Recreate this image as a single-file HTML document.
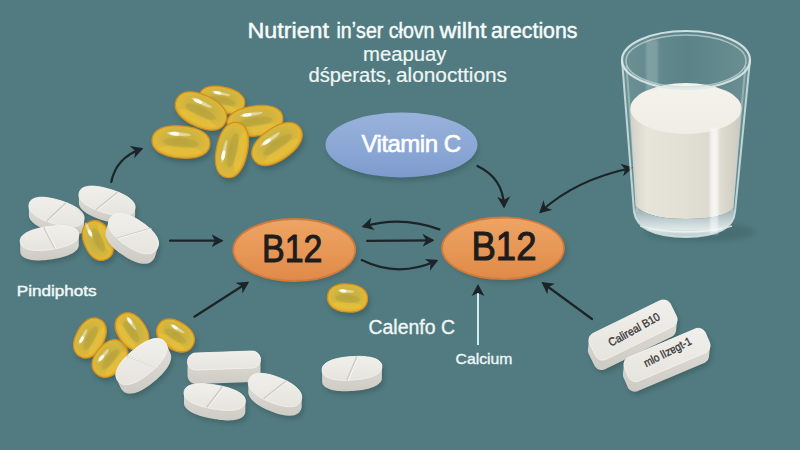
<!DOCTYPE html><html><head><meta charset="utf-8"><style>html,body{margin:0;padding:0;background:#517b80;overflow:hidden;}svg{display:block}text{font-family:"Liberation Sans",sans-serif}</style></head><body>
<svg width="800" height="450" viewBox="0 0 800 450">
<defs>
<filter id="blur2" x="-30%" y="-30%" width="160%" height="160%"><feGaussianBlur stdDeviation="2.5"/></filter>
<filter id="blur1"><feGaussianBlur stdDeviation="1"/></filter>
<radialGradient id="gelg" cx="50%" cy="45%" r="55%"><stop offset="0" stop-color="#c2ac42"/><stop offset="0.55" stop-color="#ceb440"/><stop offset="0.85" stop-color="#e0b838"/><stop offset="1" stop-color="#e6ac2a"/></radialGradient>
<filter id="blur05"><feGaussianBlur stdDeviation="0.6"/></filter>
<linearGradient id="topg" x1="0" y1="0" x2="0" y2="1"><stop offset="0" stop-color="#f0efeb"/><stop offset="1" stop-color="#e6e4de"/></linearGradient>
<linearGradient id="sideg" x1="0" y1="0" x2="0" y2="1"><stop offset="0" stop-color="#e2e0da"/><stop offset="1" stop-color="#cdcbc4"/></linearGradient>
<linearGradient id="orgg" x1="0" y1="0" x2="0" y2="1"><stop offset="0" stop-color="#eea565"/><stop offset="1" stop-color="#e08a48"/></linearGradient>
<linearGradient id="blueg" x1="0" y1="0" x2="0" y2="1"><stop offset="0" stop-color="#98b2da"/><stop offset="0.6" stop-color="#8aa6d4"/><stop offset="1" stop-color="#7c9acd"/></linearGradient>
<linearGradient id="glassg" x1="0" y1="0" x2="1" y2="0"><stop offset="0" stop-color="#7fa0a3" stop-opacity="0.6"/><stop offset="0.2" stop-color="#7c9ea1" stop-opacity="0.45"/><stop offset="0.5" stop-color="#6a9094" stop-opacity="0.4"/><stop offset="1" stop-color="#7fa0a3" stop-opacity="0.55"/></linearGradient>
<linearGradient id="milktop" x1="0" y1="0" x2="0" y2="1"><stop offset="0" stop-color="#f4f3ec"/><stop offset="1" stop-color="#efede4"/></linearGradient>
<linearGradient id="baseg" x1="0" y1="0" x2="0" y2="1"><stop offset="0" stop-color="#8ea6aa"/><stop offset="0.45" stop-color="#c0cfd1"/><stop offset="0.75" stop-color="#dfe7e7"/><stop offset="1" stop-color="#b5c7c9"/></linearGradient>
<linearGradient id="milkg" x1="0" y1="0" x2="1" y2="0"><stop offset="0" stop-color="#d4d0c5"/><stop offset="0.15" stop-color="#e7e4da"/><stop offset="0.5" stop-color="#e2dfd4"/><stop offset="0.7" stop-color="#dcd9ce"/><stop offset="0.76" stop-color="#eeede6"/><stop offset="0.82" stop-color="#dedbd0"/><stop offset="1" stop-color="#ccc8bc"/></linearGradient>
<marker id="ah" viewBox="0 0 12 14" refX="9.5" refY="7" markerWidth="12" markerHeight="14" markerUnits="userSpaceOnUse" orient="auto-start-reverse"><path d="M0,0.5 L12,7 L0,13.5 L3.5,7Z" fill="#1c2429"/></marker>
</defs>
<rect width="800" height="450" fill="#517b80"/>
<text x="247.5" y="38.0" font-size="21.5" fill="#f7fbfa" stroke="#f7fbfa" stroke-width="0.45" textLength="81.5" lengthAdjust="spacingAndGlyphs">Nutrient</text>
<text x="336.5" y="38.0" font-size="21.5" fill="#f7fbfa" stroke="#f7fbfa" stroke-width="0.45" textLength="98.0" lengthAdjust="spacingAndGlyphs">inʼser cłovn</text>
<text x="439.5" y="38.0" font-size="21.5" fill="#f7fbfa" stroke="#f7fbfa" stroke-width="0.45" textLength="47.0" lengthAdjust="spacingAndGlyphs">wilht</text>
<text x="491.0" y="38.0" font-size="21.5" fill="#f7fbfa" stroke="#f7fbfa" stroke-width="0.45" textLength="86.5" lengthAdjust="spacingAndGlyphs">arections</text>
<text x="363.0" y="60.5" font-size="19.5" fill="#eef6f5" stroke="#eef6f5" stroke-width="0.20" textLength="83.5" lengthAdjust="spacingAndGlyphs">meapuay</text>
<text x="308.5" y="82.0" font-size="19.5" fill="#eef6f5" stroke="#eef6f5" stroke-width="0.20" textLength="83.0" lengthAdjust="spacingAndGlyphs">dśperats,</text>
<text x="396.0" y="82.0" font-size="19.5" fill="#eef6f5" stroke="#eef6f5" stroke-width="0.20" textLength="111.0" lengthAdjust="spacingAndGlyphs">alonocttions</text>
<path d="M23.00,0.00 L22.90,1.65 L22.61,3.04 L22.12,4.33 L21.44,5.54 L20.57,6.66 L19.52,7.71 L18.30,8.67 L16.90,9.55 L15.35,10.34 L13.64,11.03 L11.79,11.63 L9.79,12.12 L7.66,12.50 L5.38,12.78 L2.92,12.94 L0.00,13.00 L-2.92,12.94 L-5.38,12.78 L-7.66,12.50 L-9.79,12.12 L-11.79,11.63 L-13.64,11.03 L-15.35,10.34 L-16.90,9.55 L-18.30,8.67 L-19.52,7.71 L-20.57,6.66 L-21.44,5.54 L-22.12,4.33 L-22.61,3.04 L-22.90,1.65 L-23.00,0.00 L-22.90,-1.65 L-22.61,-3.04 L-22.12,-4.33 L-21.44,-5.54 L-20.57,-6.66 L-19.52,-7.71 L-18.30,-8.67 L-16.90,-9.55 L-15.35,-10.34 L-13.64,-11.03 L-11.79,-11.63 L-9.79,-12.12 L-7.66,-12.50 L-5.38,-12.78 L-2.92,-12.94 L-0.00,-13.00 L2.92,-12.94 L5.38,-12.78 L7.66,-12.50 L9.79,-12.12 L11.79,-11.63 L13.64,-11.03 L15.35,-10.34 L16.90,-9.55 L18.30,-8.67 L19.52,-7.71 L20.57,-6.66 L21.44,-5.54 L22.12,-4.33 L22.61,-3.04 L22.90,-1.65Z" transform="translate(224.0,104.0) rotate(12.0)" fill="#123" opacity="0.28" filter="url(#blur2)"/>
<g transform="translate(222.0,100.0) rotate(12.0)">
<path d="M23.00,0.00 L22.90,1.65 L22.61,3.04 L22.12,4.33 L21.44,5.54 L20.57,6.66 L19.52,7.71 L18.30,8.67 L16.90,9.55 L15.35,10.34 L13.64,11.03 L11.79,11.63 L9.79,12.12 L7.66,12.50 L5.38,12.78 L2.92,12.94 L0.00,13.00 L-2.92,12.94 L-5.38,12.78 L-7.66,12.50 L-9.79,12.12 L-11.79,11.63 L-13.64,11.03 L-15.35,10.34 L-16.90,9.55 L-18.30,8.67 L-19.52,7.71 L-20.57,6.66 L-21.44,5.54 L-22.12,4.33 L-22.61,3.04 L-22.90,1.65 L-23.00,0.00 L-22.90,-1.65 L-22.61,-3.04 L-22.12,-4.33 L-21.44,-5.54 L-20.57,-6.66 L-19.52,-7.71 L-18.30,-8.67 L-16.90,-9.55 L-15.35,-10.34 L-13.64,-11.03 L-11.79,-11.63 L-9.79,-12.12 L-7.66,-12.50 L-5.38,-12.78 L-2.92,-12.94 L-0.00,-13.00 L2.92,-12.94 L5.38,-12.78 L7.66,-12.50 L9.79,-12.12 L11.79,-11.63 L13.64,-11.03 L15.35,-10.34 L16.90,-9.55 L18.30,-8.67 L19.52,-7.71 L20.57,-6.66 L21.44,-5.54 L22.12,-4.33 L22.61,-3.04 L22.90,-1.65Z" fill="url(#gelg)" stroke="#cf9020" stroke-width="1.3"/>
<ellipse cx="0" cy="6.8" rx="16.6" ry="3.4" fill="#efc63a" opacity="0.55" filter="url(#blur05)"/>
<ellipse cx="0" cy="0.7" rx="14.3" ry="3.9" fill="#a89638" opacity="0.35" filter="url(#blur05)"/>
<ellipse cx="-2.3" cy="-6.2" rx="9.7" ry="1.4" fill="#fff" opacity="0.5" filter="url(#blur05)"/>
<ellipse cx="-5.8" cy="-6.2" rx="3.9" ry="1.6" fill="#fff" opacity="0.9"/>
</g>
<path d="M27.00,0.00 L26.88,2.03 L26.54,3.74 L25.96,5.33 L25.17,6.81 L24.15,8.20 L22.91,9.49 L21.48,10.68 L19.84,11.76 L18.02,12.73 L16.01,13.58 L13.84,14.31 L11.50,14.91 L8.99,15.39 L6.32,15.73 L3.43,15.93 L0.00,16.00 L-3.43,15.93 L-6.32,15.73 L-8.99,15.39 L-11.50,14.91 L-13.84,14.31 L-16.01,13.58 L-18.02,12.73 L-19.84,11.76 L-21.48,10.68 L-22.91,9.49 L-24.15,8.20 L-25.17,6.81 L-25.96,5.33 L-26.54,3.74 L-26.88,2.03 L-27.00,0.00 L-26.88,-2.03 L-26.54,-3.74 L-25.96,-5.33 L-25.17,-6.81 L-24.15,-8.20 L-22.91,-9.49 L-21.48,-10.68 L-19.84,-11.76 L-18.02,-12.73 L-16.01,-13.58 L-13.84,-14.31 L-11.50,-14.91 L-8.99,-15.39 L-6.32,-15.73 L-3.43,-15.93 L-0.00,-16.00 L3.43,-15.93 L6.32,-15.73 L8.99,-15.39 L11.50,-14.91 L13.84,-14.31 L16.01,-13.58 L18.02,-12.73 L19.84,-11.76 L21.48,-10.68 L22.91,-9.49 L24.15,-8.20 L25.17,-6.81 L25.96,-5.33 L26.54,-3.74 L26.88,-2.03Z" transform="translate(203.0,115.0) rotate(25.0)" fill="#123" opacity="0.28" filter="url(#blur2)"/>
<g transform="translate(201.0,111.0) rotate(25.0)">
<path d="M27.00,0.00 L26.88,2.03 L26.54,3.74 L25.96,5.33 L25.17,6.81 L24.15,8.20 L22.91,9.49 L21.48,10.68 L19.84,11.76 L18.02,12.73 L16.01,13.58 L13.84,14.31 L11.50,14.91 L8.99,15.39 L6.32,15.73 L3.43,15.93 L0.00,16.00 L-3.43,15.93 L-6.32,15.73 L-8.99,15.39 L-11.50,14.91 L-13.84,14.31 L-16.01,13.58 L-18.02,12.73 L-19.84,11.76 L-21.48,10.68 L-22.91,9.49 L-24.15,8.20 L-25.17,6.81 L-25.96,5.33 L-26.54,3.74 L-26.88,2.03 L-27.00,0.00 L-26.88,-2.03 L-26.54,-3.74 L-25.96,-5.33 L-25.17,-6.81 L-24.15,-8.20 L-22.91,-9.49 L-21.48,-10.68 L-19.84,-11.76 L-18.02,-12.73 L-16.01,-13.58 L-13.84,-14.31 L-11.50,-14.91 L-8.99,-15.39 L-6.32,-15.73 L-3.43,-15.93 L-0.00,-16.00 L3.43,-15.93 L6.32,-15.73 L8.99,-15.39 L11.50,-14.91 L13.84,-14.31 L16.01,-13.58 L18.02,-12.73 L19.84,-11.76 L21.48,-10.68 L22.91,-9.49 L24.15,-8.20 L25.17,-6.81 L25.96,-5.33 L26.54,-3.74 L26.88,-2.03Z" fill="url(#gelg)" stroke="#cf9020" stroke-width="1.3"/>
<ellipse cx="0" cy="8.3" rx="19.4" ry="4.2" fill="#efc63a" opacity="0.55" filter="url(#blur05)"/>
<ellipse cx="0" cy="0.8" rx="16.7" ry="4.8" fill="#a89638" opacity="0.35" filter="url(#blur05)"/>
<ellipse cx="-2.7" cy="-7.7" rx="11.3" ry="1.8" fill="#fff" opacity="0.5" filter="url(#blur05)"/>
<ellipse cx="-6.8" cy="-7.7" rx="4.6" ry="1.9" fill="#fff" opacity="0.9"/>
</g>
<path d="M28.00,0.00 L27.88,1.90 L27.52,3.51 L26.93,5.00 L26.10,6.39 L25.04,7.69 L23.76,8.90 L22.27,10.01 L20.58,11.02 L18.68,11.93 L16.61,12.73 L14.35,13.41 L11.92,13.98 L9.33,14.42 L6.55,14.74 L3.55,14.94 L0.00,15.00 L-3.55,14.94 L-6.55,14.74 L-9.33,14.42 L-11.92,13.98 L-14.35,13.41 L-16.61,12.73 L-18.68,11.93 L-20.58,11.02 L-22.27,10.01 L-23.76,8.90 L-25.04,7.69 L-26.10,6.39 L-26.93,5.00 L-27.52,3.51 L-27.88,1.90 L-28.00,0.00 L-27.88,-1.90 L-27.52,-3.51 L-26.93,-5.00 L-26.10,-6.39 L-25.04,-7.69 L-23.76,-8.90 L-22.27,-10.01 L-20.58,-11.02 L-18.68,-11.93 L-16.61,-12.73 L-14.35,-13.41 L-11.92,-13.98 L-9.33,-14.42 L-6.55,-14.74 L-3.55,-14.94 L-0.00,-15.00 L3.55,-14.94 L6.55,-14.74 L9.33,-14.42 L11.92,-13.98 L14.35,-13.41 L16.61,-12.73 L18.68,-11.93 L20.58,-11.02 L22.27,-10.01 L23.76,-8.90 L25.04,-7.69 L26.10,-6.39 L26.93,-5.00 L27.52,-3.51 L27.88,-1.90Z" transform="translate(257.0,125.0) rotate(-8.0)" fill="#123" opacity="0.28" filter="url(#blur2)"/>
<g transform="translate(255.0,121.0) rotate(-8.0)">
<path d="M28.00,0.00 L27.88,1.90 L27.52,3.51 L26.93,5.00 L26.10,6.39 L25.04,7.69 L23.76,8.90 L22.27,10.01 L20.58,11.02 L18.68,11.93 L16.61,12.73 L14.35,13.41 L11.92,13.98 L9.33,14.42 L6.55,14.74 L3.55,14.94 L0.00,15.00 L-3.55,14.94 L-6.55,14.74 L-9.33,14.42 L-11.92,13.98 L-14.35,13.41 L-16.61,12.73 L-18.68,11.93 L-20.58,11.02 L-22.27,10.01 L-23.76,8.90 L-25.04,7.69 L-26.10,6.39 L-26.93,5.00 L-27.52,3.51 L-27.88,1.90 L-28.00,0.00 L-27.88,-1.90 L-27.52,-3.51 L-26.93,-5.00 L-26.10,-6.39 L-25.04,-7.69 L-23.76,-8.90 L-22.27,-10.01 L-20.58,-11.02 L-18.68,-11.93 L-16.61,-12.73 L-14.35,-13.41 L-11.92,-13.98 L-9.33,-14.42 L-6.55,-14.74 L-3.55,-14.94 L-0.00,-15.00 L3.55,-14.94 L6.55,-14.74 L9.33,-14.42 L11.92,-13.98 L14.35,-13.41 L16.61,-12.73 L18.68,-11.93 L20.58,-11.02 L22.27,-10.01 L23.76,-8.90 L25.04,-7.69 L26.10,-6.39 L26.93,-5.00 L27.52,-3.51 L27.88,-1.90Z" fill="url(#gelg)" stroke="#cf9020" stroke-width="1.3"/>
<ellipse cx="0" cy="7.8" rx="20.2" ry="3.9" fill="#efc63a" opacity="0.55" filter="url(#blur05)"/>
<ellipse cx="0" cy="0.8" rx="17.4" ry="4.5" fill="#a89638" opacity="0.35" filter="url(#blur05)"/>
<ellipse cx="-2.8" cy="-7.2" rx="11.8" ry="1.6" fill="#fff" opacity="0.5" filter="url(#blur05)"/>
<ellipse cx="-7.0" cy="-7.2" rx="4.8" ry="1.8" fill="#fff" opacity="0.9"/>
</g>
<path d="M29.00,0.00 L28.88,2.03 L28.50,3.74 L27.89,5.33 L27.03,6.81 L25.94,8.20 L24.61,9.49 L23.07,10.68 L21.31,11.76 L19.35,12.73 L17.20,13.58 L14.86,14.31 L12.35,14.91 L9.66,15.39 L6.78,15.73 L3.68,15.93 L0.00,16.00 L-3.68,15.93 L-6.78,15.73 L-9.66,15.39 L-12.35,14.91 L-14.86,14.31 L-17.20,13.58 L-19.35,12.73 L-21.31,11.76 L-23.07,10.68 L-24.61,9.49 L-25.94,8.20 L-27.03,6.81 L-27.89,5.33 L-28.50,3.74 L-28.88,2.03 L-29.00,0.00 L-28.88,-2.03 L-28.50,-3.74 L-27.89,-5.33 L-27.03,-6.81 L-25.94,-8.20 L-24.61,-9.49 L-23.07,-10.68 L-21.31,-11.76 L-19.35,-12.73 L-17.20,-13.58 L-14.86,-14.31 L-12.35,-14.91 L-9.66,-15.39 L-6.78,-15.73 L-3.68,-15.93 L-0.00,-16.00 L3.68,-15.93 L6.78,-15.73 L9.66,-15.39 L12.35,-14.91 L14.86,-14.31 L17.20,-13.58 L19.35,-12.73 L21.31,-11.76 L23.07,-10.68 L24.61,-9.49 L25.94,-8.20 L27.03,-6.81 L27.89,-5.33 L28.50,-3.74 L28.88,-2.03Z" transform="translate(183.0,146.0) rotate(5.0)" fill="#123" opacity="0.28" filter="url(#blur2)"/>
<g transform="translate(181.0,142.0) rotate(5.0)">
<path d="M29.00,0.00 L28.88,2.03 L28.50,3.74 L27.89,5.33 L27.03,6.81 L25.94,8.20 L24.61,9.49 L23.07,10.68 L21.31,11.76 L19.35,12.73 L17.20,13.58 L14.86,14.31 L12.35,14.91 L9.66,15.39 L6.78,15.73 L3.68,15.93 L0.00,16.00 L-3.68,15.93 L-6.78,15.73 L-9.66,15.39 L-12.35,14.91 L-14.86,14.31 L-17.20,13.58 L-19.35,12.73 L-21.31,11.76 L-23.07,10.68 L-24.61,9.49 L-25.94,8.20 L-27.03,6.81 L-27.89,5.33 L-28.50,3.74 L-28.88,2.03 L-29.00,0.00 L-28.88,-2.03 L-28.50,-3.74 L-27.89,-5.33 L-27.03,-6.81 L-25.94,-8.20 L-24.61,-9.49 L-23.07,-10.68 L-21.31,-11.76 L-19.35,-12.73 L-17.20,-13.58 L-14.86,-14.31 L-12.35,-14.91 L-9.66,-15.39 L-6.78,-15.73 L-3.68,-15.93 L-0.00,-16.00 L3.68,-15.93 L6.78,-15.73 L9.66,-15.39 L12.35,-14.91 L14.86,-14.31 L17.20,-13.58 L19.35,-12.73 L21.31,-11.76 L23.07,-10.68 L24.61,-9.49 L25.94,-8.20 L27.03,-6.81 L27.89,-5.33 L28.50,-3.74 L28.88,-2.03Z" fill="url(#gelg)" stroke="#cf9020" stroke-width="1.3"/>
<ellipse cx="0" cy="8.3" rx="20.9" ry="4.2" fill="#efc63a" opacity="0.55" filter="url(#blur05)"/>
<ellipse cx="0" cy="0.8" rx="18.0" ry="4.8" fill="#a89638" opacity="0.35" filter="url(#blur05)"/>
<ellipse cx="-2.9" cy="-7.7" rx="12.2" ry="1.8" fill="#fff" opacity="0.5" filter="url(#blur05)"/>
<ellipse cx="-7.2" cy="-7.7" rx="4.9" ry="1.9" fill="#fff" opacity="0.9"/>
</g>
<path d="M28.00,0.00 L27.88,1.97 L27.52,3.63 L26.93,5.16 L26.10,6.60 L25.04,7.94 L23.76,9.19 L22.27,10.34 L20.58,11.39 L18.68,12.33 L16.61,13.15 L14.35,13.86 L11.92,14.45 L9.33,14.91 L6.55,15.23 L3.55,15.43 L0.00,15.50 L-3.55,15.43 L-6.55,15.23 L-9.33,14.91 L-11.92,14.45 L-14.35,13.86 L-16.61,13.15 L-18.68,12.33 L-20.58,11.39 L-22.27,10.34 L-23.76,9.19 L-25.04,7.94 L-26.10,6.60 L-26.93,5.16 L-27.52,3.63 L-27.88,1.97 L-28.00,0.00 L-27.88,-1.97 L-27.52,-3.63 L-26.93,-5.16 L-26.10,-6.60 L-25.04,-7.94 L-23.76,-9.19 L-22.27,-10.34 L-20.58,-11.39 L-18.68,-12.33 L-16.61,-13.15 L-14.35,-13.86 L-11.92,-14.45 L-9.33,-14.91 L-6.55,-15.23 L-3.55,-15.43 L-0.00,-15.50 L3.55,-15.43 L6.55,-15.23 L9.33,-14.91 L11.92,-14.45 L14.35,-13.86 L16.61,-13.15 L18.68,-12.33 L20.58,-11.39 L22.27,-10.34 L23.76,-9.19 L25.04,-7.94 L26.10,-6.60 L26.93,-5.16 L27.52,-3.63 L27.88,-1.97Z" transform="translate(234.0,154.0) rotate(-78.0)" fill="#123" opacity="0.28" filter="url(#blur2)"/>
<g transform="translate(232.0,150.0) rotate(-78.0)">
<path d="M28.00,0.00 L27.88,1.97 L27.52,3.63 L26.93,5.16 L26.10,6.60 L25.04,7.94 L23.76,9.19 L22.27,10.34 L20.58,11.39 L18.68,12.33 L16.61,13.15 L14.35,13.86 L11.92,14.45 L9.33,14.91 L6.55,15.23 L3.55,15.43 L0.00,15.50 L-3.55,15.43 L-6.55,15.23 L-9.33,14.91 L-11.92,14.45 L-14.35,13.86 L-16.61,13.15 L-18.68,12.33 L-20.58,11.39 L-22.27,10.34 L-23.76,9.19 L-25.04,7.94 L-26.10,6.60 L-26.93,5.16 L-27.52,3.63 L-27.88,1.97 L-28.00,0.00 L-27.88,-1.97 L-27.52,-3.63 L-26.93,-5.16 L-26.10,-6.60 L-25.04,-7.94 L-23.76,-9.19 L-22.27,-10.34 L-20.58,-11.39 L-18.68,-12.33 L-16.61,-13.15 L-14.35,-13.86 L-11.92,-14.45 L-9.33,-14.91 L-6.55,-15.23 L-3.55,-15.43 L-0.00,-15.50 L3.55,-15.43 L6.55,-15.23 L9.33,-14.91 L11.92,-14.45 L14.35,-13.86 L16.61,-13.15 L18.68,-12.33 L20.58,-11.39 L22.27,-10.34 L23.76,-9.19 L25.04,-7.94 L26.10,-6.60 L26.93,-5.16 L27.52,-3.63 L27.88,-1.97Z" fill="url(#gelg)" stroke="#cf9020" stroke-width="1.3"/>
<ellipse cx="0" cy="8.1" rx="20.2" ry="4.0" fill="#efc63a" opacity="0.55" filter="url(#blur05)"/>
<ellipse cx="0" cy="0.8" rx="17.4" ry="4.6" fill="#a89638" opacity="0.35" filter="url(#blur05)"/>
<ellipse cx="-2.8" cy="-7.4" rx="11.8" ry="1.7" fill="#fff" opacity="0.5" filter="url(#blur05)"/>
<ellipse cx="-7.0" cy="-7.4" rx="4.8" ry="1.9" fill="#fff" opacity="0.9"/>
</g>
<path d="M28.00,0.00 L27.88,2.03 L27.52,3.74 L26.93,5.33 L26.10,6.81 L25.04,8.20 L23.76,9.49 L22.27,10.68 L20.58,11.76 L18.68,12.73 L16.61,13.58 L14.35,14.31 L11.92,14.91 L9.33,15.39 L6.55,15.73 L3.55,15.93 L0.00,16.00 L-3.55,15.93 L-6.55,15.73 L-9.33,15.39 L-11.92,14.91 L-14.35,14.31 L-16.61,13.58 L-18.68,12.73 L-20.58,11.76 L-22.27,10.68 L-23.76,9.49 L-25.04,8.20 L-26.10,6.81 L-26.93,5.33 L-27.52,3.74 L-27.88,2.03 L-28.00,0.00 L-27.88,-2.03 L-27.52,-3.74 L-26.93,-5.33 L-26.10,-6.81 L-25.04,-8.20 L-23.76,-9.49 L-22.27,-10.68 L-20.58,-11.76 L-18.68,-12.73 L-16.61,-13.58 L-14.35,-14.31 L-11.92,-14.91 L-9.33,-15.39 L-6.55,-15.73 L-3.55,-15.93 L-0.00,-16.00 L3.55,-15.93 L6.55,-15.73 L9.33,-15.39 L11.92,-14.91 L14.35,-14.31 L16.61,-13.58 L18.68,-12.73 L20.58,-11.76 L22.27,-10.68 L23.76,-9.49 L25.04,-8.20 L26.10,-6.81 L26.93,-5.33 L27.52,-3.74 L27.88,-2.03Z" transform="translate(279.0,148.0) rotate(-35.0)" fill="#123" opacity="0.28" filter="url(#blur2)"/>
<g transform="translate(277.0,144.0) rotate(-35.0)">
<path d="M28.00,0.00 L27.88,2.03 L27.52,3.74 L26.93,5.33 L26.10,6.81 L25.04,8.20 L23.76,9.49 L22.27,10.68 L20.58,11.76 L18.68,12.73 L16.61,13.58 L14.35,14.31 L11.92,14.91 L9.33,15.39 L6.55,15.73 L3.55,15.93 L0.00,16.00 L-3.55,15.93 L-6.55,15.73 L-9.33,15.39 L-11.92,14.91 L-14.35,14.31 L-16.61,13.58 L-18.68,12.73 L-20.58,11.76 L-22.27,10.68 L-23.76,9.49 L-25.04,8.20 L-26.10,6.81 L-26.93,5.33 L-27.52,3.74 L-27.88,2.03 L-28.00,0.00 L-27.88,-2.03 L-27.52,-3.74 L-26.93,-5.33 L-26.10,-6.81 L-25.04,-8.20 L-23.76,-9.49 L-22.27,-10.68 L-20.58,-11.76 L-18.68,-12.73 L-16.61,-13.58 L-14.35,-14.31 L-11.92,-14.91 L-9.33,-15.39 L-6.55,-15.73 L-3.55,-15.93 L-0.00,-16.00 L3.55,-15.93 L6.55,-15.73 L9.33,-15.39 L11.92,-14.91 L14.35,-14.31 L16.61,-13.58 L18.68,-12.73 L20.58,-11.76 L22.27,-10.68 L23.76,-9.49 L25.04,-8.20 L26.10,-6.81 L26.93,-5.33 L27.52,-3.74 L27.88,-2.03Z" fill="url(#gelg)" stroke="#cf9020" stroke-width="1.3"/>
<ellipse cx="0" cy="8.3" rx="20.2" ry="4.2" fill="#efc63a" opacity="0.55" filter="url(#blur05)"/>
<ellipse cx="0" cy="0.8" rx="17.4" ry="4.8" fill="#a89638" opacity="0.35" filter="url(#blur05)"/>
<ellipse cx="-2.8" cy="-7.7" rx="11.8" ry="1.8" fill="#fff" opacity="0.5" filter="url(#blur05)"/>
<ellipse cx="-7.0" cy="-7.7" rx="4.8" ry="1.9" fill="#fff" opacity="0.9"/>
</g>
<path d="M28.9,205.7 L29.0,204.8 L29.2,203.7 L29.6,202.6 L30.0,201.8 L30.5,201.0 L31.1,200.4 L31.8,199.8 L32.6,199.2 L33.4,198.8 L34.4,198.4 L35.4,198.0 L36.5,197.7 L37.7,197.5 L38.9,197.3 L40.3,197.2 L41.7,197.2 L43.1,197.2 L44.7,197.3 L46.3,197.5 L48.0,197.7 L49.7,198.0 L51.5,198.3 L53.4,198.7 L55.3,199.2 L57.5,199.8 L60.0,200.5 L62.5,201.3 L64.6,202.0 L66.5,202.7 L68.3,203.4 L70.0,204.2 L71.6,204.9 L73.1,205.7 L74.5,206.4 L75.8,207.2 L77.1,208.0 L78.2,208.8 L79.3,209.7 L80.2,210.5 L81.1,211.4 L81.8,212.2 L82.5,213.1 L83.0,213.9 L83.5,214.8 L83.8,215.7 L84.0,216.5 L84.1,217.4 L84.1,218.3 L84.1,227.3 L84.0,228.2 L83.8,229.3 L83.4,230.4 L83.0,231.2 L82.5,232.0 L81.9,232.6 L81.2,233.2 L80.4,233.8 L79.6,234.2 L78.6,234.6 L77.6,235.0 L76.5,235.3 L75.3,235.5 L74.1,235.7 L72.7,235.8 L71.3,235.8 L69.9,235.8 L68.3,235.7 L66.7,235.5 L65.0,235.3 L63.3,235.0 L61.5,234.7 L59.6,234.3 L57.7,233.8 L55.5,233.2 L53.0,232.5 L50.5,231.7 L48.4,231.0 L46.5,230.3 L44.7,229.6 L43.0,228.8 L41.4,228.1 L39.9,227.3 L38.5,226.6 L37.2,225.8 L35.9,225.0 L34.8,224.2 L33.7,223.3 L32.8,222.5 L31.9,221.6 L31.2,220.8 L30.5,219.9 L30.0,219.1 L29.5,218.2 L29.2,217.3 L29.0,216.5 L28.9,215.6 L28.9,214.7Z" fill="#000" opacity="0.18" transform="translate(2,3)" filter="url(#blur2)"/>
<path d="M28.9,205.7 L29.0,204.8 L29.2,203.7 L29.6,202.6 L30.0,201.8 L30.5,201.0 L31.1,200.4 L31.8,199.8 L32.6,199.2 L33.4,198.8 L34.4,198.4 L35.4,198.0 L36.5,197.7 L37.7,197.5 L38.9,197.3 L40.3,197.2 L41.7,197.2 L43.1,197.2 L44.7,197.3 L46.3,197.5 L48.0,197.7 L49.7,198.0 L51.5,198.3 L53.4,198.7 L55.3,199.2 L57.5,199.8 L60.0,200.5 L62.5,201.3 L64.6,202.0 L66.5,202.7 L68.3,203.4 L70.0,204.2 L71.6,204.9 L73.1,205.7 L74.5,206.4 L75.8,207.2 L77.1,208.0 L78.2,208.8 L79.3,209.7 L80.2,210.5 L81.1,211.4 L81.8,212.2 L82.5,213.1 L83.0,213.9 L83.5,214.8 L83.8,215.7 L84.0,216.5 L84.1,217.4 L84.1,218.3 L84.1,227.3 L84.0,228.2 L83.8,229.3 L83.4,230.4 L83.0,231.2 L82.5,232.0 L81.9,232.6 L81.2,233.2 L80.4,233.8 L79.6,234.2 L78.6,234.6 L77.6,235.0 L76.5,235.3 L75.3,235.5 L74.1,235.7 L72.7,235.8 L71.3,235.8 L69.9,235.8 L68.3,235.7 L66.7,235.5 L65.0,235.3 L63.3,235.0 L61.5,234.7 L59.6,234.3 L57.7,233.8 L55.5,233.2 L53.0,232.5 L50.5,231.7 L48.4,231.0 L46.5,230.3 L44.7,229.6 L43.0,228.8 L41.4,228.1 L39.9,227.3 L38.5,226.6 L37.2,225.8 L35.9,225.0 L34.8,224.2 L33.7,223.3 L32.8,222.5 L31.9,221.6 L31.2,220.8 L30.5,219.9 L30.0,219.1 L29.5,218.2 L29.2,217.3 L29.0,216.5 L28.9,215.6 L28.9,214.7Z" fill="url(#sideg)"/>
<path d="M83.8,220.3 L83.4,221.4 L83.0,222.2 L82.5,223.0 L81.9,223.6 L81.2,224.2 L80.4,224.8 L79.6,225.2 L78.6,225.6 L77.6,226.0 L76.5,226.3 L75.3,226.5 L74.1,226.7 L72.7,226.8 L71.3,226.8 L69.9,226.8 L68.3,226.7 L66.7,226.5 L65.0,226.3 L63.3,226.0 L61.5,225.7 L59.6,225.3 L57.7,224.8 L55.5,224.2 L53.0,223.5 L50.5,222.7 L48.4,222.0 L46.5,221.3 L44.7,220.6 L43.0,219.8 L41.4,219.1 L39.9,218.3 L38.5,217.6 L37.2,216.8 L35.9,216.0 L34.8,215.2 L33.7,214.3 L32.8,213.5 L31.9,212.6 L31.2,211.8 L30.5,210.9 L30.0,210.1 L29.5,209.2 L29.2,208.3 L29.0,207.5 L28.9,206.6 L28.9,205.7 L29.0,204.8 L29.2,203.7 L29.6,202.6 L30.0,201.8 L30.5,201.0 L31.1,200.4 L31.8,199.8 L32.6,199.2 L33.4,198.8 L34.4,198.4 L35.4,198.0 L36.5,197.7 L37.7,197.5 L38.9,197.3 L40.3,197.2 L41.7,197.2 L43.1,197.2 L44.7,197.3 L46.3,197.5 L48.0,197.7 L49.7,198.0 L51.5,198.3 L53.4,198.7 L55.3,199.2 L57.5,199.8 L60.0,200.5 L62.5,201.3 L64.6,202.0 L66.5,202.7 L68.3,203.4 L70.0,204.2 L71.6,204.9 L73.1,205.7 L74.5,206.4 L75.8,207.2 L77.1,208.0 L78.2,208.8 L79.3,209.7 L80.2,210.5 L81.1,211.4 L81.8,212.2 L82.5,213.1 L83.0,213.9 L83.5,214.8 L83.8,215.7 L84.0,216.5 L84.1,217.4 L84.1,218.3 L84.0,219.2Z" fill="url(#topg)" stroke="#f4f3ef" stroke-width="0.8"/>
<line x1="66.2" y1="202.8" x2="46.8" y2="221.2" stroke="#cfcdc6" stroke-width="1.8"/>
<line x1="67.4" y1="203.1" x2="48.0" y2="221.5" stroke="#fbfaf7" stroke-width="0.9"/>
<path d="M78.9,194.5 L79.0,193.6 L79.3,192.5 L79.6,191.5 L80.1,190.6 L80.6,189.9 L81.2,189.2 L81.9,188.6 L82.6,188.1 L83.5,187.6 L84.4,187.2 L85.5,186.9 L86.6,186.6 L87.8,186.4 L89.1,186.2 L90.4,186.1 L91.9,186.1 L93.4,186.1 L94.9,186.2 L96.5,186.4 L98.2,186.6 L100.0,186.9 L101.8,187.2 L103.8,187.7 L105.8,188.2 L107.9,188.8 L110.5,189.5 L113.1,190.3 L115.2,191.1 L117.1,191.8 L119.0,192.5 L120.7,193.2 L122.3,194.0 L123.8,194.7 L125.3,195.5 L126.6,196.3 L127.9,197.1 L129.0,197.9 L130.1,198.8 L131.1,199.6 L132.0,200.5 L132.7,201.3 L133.4,202.2 L134.0,203.1 L134.4,203.9 L134.8,204.8 L135.0,205.7 L135.1,206.6 L135.1,207.5 L135.1,215.5 L135.0,216.4 L134.7,217.5 L134.4,218.5 L133.9,219.4 L133.4,220.1 L132.8,220.8 L132.1,221.4 L131.4,221.9 L130.5,222.4 L129.6,222.8 L128.5,223.1 L127.4,223.4 L126.2,223.6 L124.9,223.8 L123.6,223.9 L122.1,223.9 L120.6,223.9 L119.1,223.8 L117.5,223.6 L115.8,223.4 L114.0,223.1 L112.2,222.8 L110.2,222.3 L108.2,221.8 L106.1,221.2 L103.5,220.5 L100.9,219.7 L98.8,218.9 L96.9,218.2 L95.0,217.5 L93.3,216.8 L91.7,216.0 L90.2,215.3 L88.7,214.5 L87.4,213.7 L86.1,212.9 L85.0,212.1 L83.9,211.2 L82.9,210.4 L82.0,209.5 L81.3,208.7 L80.6,207.8 L80.0,206.9 L79.6,206.1 L79.2,205.2 L79.0,204.3 L78.9,203.4 L78.9,202.5Z" fill="#000" opacity="0.18" transform="translate(2,3)" filter="url(#blur2)"/>
<path d="M78.9,194.5 L79.0,193.6 L79.3,192.5 L79.6,191.5 L80.1,190.6 L80.6,189.9 L81.2,189.2 L81.9,188.6 L82.6,188.1 L83.5,187.6 L84.4,187.2 L85.5,186.9 L86.6,186.6 L87.8,186.4 L89.1,186.2 L90.4,186.1 L91.9,186.1 L93.4,186.1 L94.9,186.2 L96.5,186.4 L98.2,186.6 L100.0,186.9 L101.8,187.2 L103.8,187.7 L105.8,188.2 L107.9,188.8 L110.5,189.5 L113.1,190.3 L115.2,191.1 L117.1,191.8 L119.0,192.5 L120.7,193.2 L122.3,194.0 L123.8,194.7 L125.3,195.5 L126.6,196.3 L127.9,197.1 L129.0,197.9 L130.1,198.8 L131.1,199.6 L132.0,200.5 L132.7,201.3 L133.4,202.2 L134.0,203.1 L134.4,203.9 L134.8,204.8 L135.0,205.7 L135.1,206.6 L135.1,207.5 L135.1,215.5 L135.0,216.4 L134.7,217.5 L134.4,218.5 L133.9,219.4 L133.4,220.1 L132.8,220.8 L132.1,221.4 L131.4,221.9 L130.5,222.4 L129.6,222.8 L128.5,223.1 L127.4,223.4 L126.2,223.6 L124.9,223.8 L123.6,223.9 L122.1,223.9 L120.6,223.9 L119.1,223.8 L117.5,223.6 L115.8,223.4 L114.0,223.1 L112.2,222.8 L110.2,222.3 L108.2,221.8 L106.1,221.2 L103.5,220.5 L100.9,219.7 L98.8,218.9 L96.9,218.2 L95.0,217.5 L93.3,216.8 L91.7,216.0 L90.2,215.3 L88.7,214.5 L87.4,213.7 L86.1,212.9 L85.0,212.1 L83.9,211.2 L82.9,210.4 L82.0,209.5 L81.3,208.7 L80.6,207.8 L80.0,206.9 L79.6,206.1 L79.2,205.2 L79.0,204.3 L78.9,203.4 L78.9,202.5Z" fill="url(#sideg)"/>
<path d="M134.7,209.5 L134.4,210.5 L133.9,211.4 L133.4,212.1 L132.8,212.8 L132.1,213.4 L131.4,213.9 L130.5,214.4 L129.6,214.8 L128.5,215.1 L127.4,215.4 L126.2,215.6 L124.9,215.8 L123.6,215.9 L122.1,215.9 L120.6,215.9 L119.1,215.8 L117.5,215.6 L115.8,215.4 L114.0,215.1 L112.2,214.8 L110.2,214.3 L108.2,213.8 L106.1,213.2 L103.5,212.5 L100.9,211.7 L98.8,210.9 L96.9,210.2 L95.0,209.5 L93.3,208.8 L91.7,208.0 L90.2,207.3 L88.7,206.5 L87.4,205.7 L86.1,204.9 L85.0,204.1 L83.9,203.2 L82.9,202.4 L82.0,201.5 L81.3,200.7 L80.6,199.8 L80.0,198.9 L79.6,198.1 L79.2,197.2 L79.0,196.3 L78.9,195.4 L78.9,194.5 L79.0,193.6 L79.3,192.5 L79.6,191.5 L80.1,190.6 L80.6,189.9 L81.2,189.2 L81.9,188.6 L82.6,188.1 L83.5,187.6 L84.4,187.2 L85.5,186.9 L86.6,186.6 L87.8,186.4 L89.1,186.2 L90.4,186.1 L91.9,186.1 L93.4,186.1 L94.9,186.2 L96.5,186.4 L98.2,186.6 L100.0,186.9 L101.8,187.2 L103.8,187.7 L105.8,188.2 L107.9,188.8 L110.5,189.5 L113.1,190.3 L115.2,191.1 L117.1,191.8 L119.0,192.5 L120.7,193.2 L122.3,194.0 L123.8,194.7 L125.3,195.5 L126.6,196.3 L127.9,197.1 L129.0,197.9 L130.1,198.8 L131.1,199.6 L132.0,200.5 L132.7,201.3 L133.4,202.2 L134.0,203.1 L134.4,203.9 L134.8,204.8 L135.0,205.7 L135.1,206.6 L135.1,207.5 L135.0,208.4Z" fill="url(#topg)" stroke="#f4f3ef" stroke-width="0.8"/>
<line x1="117.9" y1="192.1" x2="96.1" y2="209.9" stroke="#cfcdc6" stroke-width="1.8"/>
<line x1="119.1" y1="192.4" x2="97.3" y2="210.2" stroke="#fbfaf7" stroke-width="0.9"/>
<path d="M20.50,0.00 L20.41,1.78 L20.15,3.28 L19.71,4.66 L19.11,5.96 L18.33,7.17 L17.40,8.30 L16.31,9.34 L15.06,10.29 L13.68,11.14 L12.16,11.88 L10.51,12.52 L8.73,13.05 L6.83,13.46 L4.80,13.76 L2.60,13.94 L0.00,14.00 L-2.60,13.94 L-4.80,13.76 L-6.83,13.46 L-8.73,13.05 L-10.51,12.52 L-12.16,11.88 L-13.68,11.14 L-15.06,10.29 L-16.31,9.34 L-17.40,8.30 L-18.33,7.17 L-19.11,5.96 L-19.71,4.66 L-20.15,3.28 L-20.41,1.78 L-20.50,0.00 L-20.41,-1.78 L-20.15,-3.28 L-19.71,-4.66 L-19.11,-5.96 L-18.33,-7.17 L-17.40,-8.30 L-16.31,-9.34 L-15.06,-10.29 L-13.68,-11.14 L-12.16,-11.88 L-10.51,-12.52 L-8.73,-13.05 L-6.83,-13.46 L-4.80,-13.76 L-2.60,-13.94 L-0.00,-14.00 L2.60,-13.94 L4.80,-13.76 L6.83,-13.46 L8.73,-13.05 L10.51,-12.52 L12.16,-11.88 L13.68,-11.14 L15.06,-10.29 L16.31,-9.34 L17.40,-8.30 L18.33,-7.17 L19.11,-5.96 L19.71,-4.66 L20.15,-3.28 L20.41,-1.78Z" transform="translate(100.0,244.5) rotate(-114.0)" fill="#123" opacity="0.28" filter="url(#blur2)"/>
<g transform="translate(98.0,240.5) rotate(-114.0)">
<path d="M20.50,0.00 L20.41,1.78 L20.15,3.28 L19.71,4.66 L19.11,5.96 L18.33,7.17 L17.40,8.30 L16.31,9.34 L15.06,10.29 L13.68,11.14 L12.16,11.88 L10.51,12.52 L8.73,13.05 L6.83,13.46 L4.80,13.76 L2.60,13.94 L0.00,14.00 L-2.60,13.94 L-4.80,13.76 L-6.83,13.46 L-8.73,13.05 L-10.51,12.52 L-12.16,11.88 L-13.68,11.14 L-15.06,10.29 L-16.31,9.34 L-17.40,8.30 L-18.33,7.17 L-19.11,5.96 L-19.71,4.66 L-20.15,3.28 L-20.41,1.78 L-20.50,0.00 L-20.41,-1.78 L-20.15,-3.28 L-19.71,-4.66 L-19.11,-5.96 L-18.33,-7.17 L-17.40,-8.30 L-16.31,-9.34 L-15.06,-10.29 L-13.68,-11.14 L-12.16,-11.88 L-10.51,-12.52 L-8.73,-13.05 L-6.83,-13.46 L-4.80,-13.76 L-2.60,-13.94 L-0.00,-14.00 L2.60,-13.94 L4.80,-13.76 L6.83,-13.46 L8.73,-13.05 L10.51,-12.52 L12.16,-11.88 L13.68,-11.14 L15.06,-10.29 L16.31,-9.34 L17.40,-8.30 L18.33,-7.17 L19.11,-5.96 L19.71,-4.66 L20.15,-3.28 L20.41,-1.78Z" fill="url(#gelg)" stroke="#cf9020" stroke-width="1.3"/>
<ellipse cx="0" cy="7.3" rx="14.8" ry="3.6" fill="#efc63a" opacity="0.55" filter="url(#blur05)"/>
<ellipse cx="0" cy="0.7" rx="12.7" ry="4.2" fill="#a89638" opacity="0.35" filter="url(#blur05)"/>
<ellipse cx="13.3" cy="-4.2" rx="8.6" ry="1.5" fill="#fff" opacity="0.5" filter="url(#blur05)"/>
<ellipse cx="10.2" cy="-4.2" rx="3.5" ry="1.7" fill="#fff" opacity="0.9"/>
</g>
<path d="M105.4,233.9 L105.4,232.9 L105.6,231.9 L105.8,230.9 L108.8,220.9 L109.1,219.9 L109.6,219.0 L110.3,217.8 L111.1,216.8 L111.8,216.0 L112.6,215.3 L113.4,214.7 L114.3,214.2 L115.2,213.8 L116.2,213.5 L117.3,213.3 L118.4,213.2 L119.6,213.2 L120.8,213.2 L122.1,213.3 L123.4,213.5 L124.8,213.8 L126.2,214.2 L127.7,214.7 L129.2,215.2 L130.7,215.9 L132.3,216.6 L133.9,217.4 L135.6,218.3 L137.3,219.3 L139.1,220.5 L141.3,221.9 L143.5,223.4 L145.2,224.6 L146.8,225.9 L148.3,227.1 L149.6,228.3 L150.9,229.5 L152.0,230.6 L153.1,231.8 L154.1,233.0 L155.0,234.2 L155.8,235.3 L156.5,236.5 L157.1,237.6 L157.6,238.8 L158.0,239.9 L158.3,241.0 L158.5,242.0 L158.6,243.1 L158.6,244.1 L158.4,245.1 L158.2,246.1 L155.2,256.1 L154.9,257.1 L154.4,258.0 L153.7,259.2 L152.9,260.2 L152.2,261.0 L151.4,261.7 L150.6,262.3 L149.7,262.8 L148.8,263.2 L147.8,263.5 L146.7,263.7 L145.6,263.8 L144.4,263.8 L143.2,263.8 L141.9,263.7 L140.6,263.5 L139.2,263.2 L137.8,262.8 L136.3,262.3 L134.8,261.8 L133.3,261.1 L131.7,260.4 L130.1,259.6 L128.4,258.7 L126.7,257.7 L124.9,256.5 L122.7,255.1 L120.5,253.6 L118.8,252.4 L117.2,251.1 L115.7,249.9 L114.4,248.7 L113.1,247.5 L112.0,246.4 L110.9,245.2 L109.9,244.0 L109.0,242.8 L108.2,241.7 L107.5,240.5 L106.9,239.4 L106.4,238.2 L106.0,237.1 L105.7,236.0 L105.5,235.0Z" fill="#000" opacity="0.18" transform="translate(2,3)" filter="url(#blur2)"/>
<path d="M105.4,233.9 L105.4,232.9 L105.6,231.9 L105.8,230.9 L108.8,220.9 L109.1,219.9 L109.6,219.0 L110.3,217.8 L111.1,216.8 L111.8,216.0 L112.6,215.3 L113.4,214.7 L114.3,214.2 L115.2,213.8 L116.2,213.5 L117.3,213.3 L118.4,213.2 L119.6,213.2 L120.8,213.2 L122.1,213.3 L123.4,213.5 L124.8,213.8 L126.2,214.2 L127.7,214.7 L129.2,215.2 L130.7,215.9 L132.3,216.6 L133.9,217.4 L135.6,218.3 L137.3,219.3 L139.1,220.5 L141.3,221.9 L143.5,223.4 L145.2,224.6 L146.8,225.9 L148.3,227.1 L149.6,228.3 L150.9,229.5 L152.0,230.6 L153.1,231.8 L154.1,233.0 L155.0,234.2 L155.8,235.3 L156.5,236.5 L157.1,237.6 L157.6,238.8 L158.0,239.9 L158.3,241.0 L158.5,242.0 L158.6,243.1 L158.6,244.1 L158.4,245.1 L158.2,246.1 L155.2,256.1 L154.9,257.1 L154.4,258.0 L153.7,259.2 L152.9,260.2 L152.2,261.0 L151.4,261.7 L150.6,262.3 L149.7,262.8 L148.8,263.2 L147.8,263.5 L146.7,263.7 L145.6,263.8 L144.4,263.8 L143.2,263.8 L141.9,263.7 L140.6,263.5 L139.2,263.2 L137.8,262.8 L136.3,262.3 L134.8,261.8 L133.3,261.1 L131.7,260.4 L130.1,259.6 L128.4,258.7 L126.7,257.7 L124.9,256.5 L122.7,255.1 L120.5,253.6 L118.8,252.4 L117.2,251.1 L115.7,249.9 L114.4,248.7 L113.1,247.5 L112.0,246.4 L110.9,245.2 L109.9,244.0 L109.0,242.8 L108.2,241.7 L107.5,240.5 L106.9,239.4 L106.4,238.2 L106.0,237.1 L105.7,236.0 L105.5,235.0Z" fill="url(#sideg)"/>
<path d="M156.7,249.2 L155.9,250.2 L155.2,251.0 L154.4,251.7 L153.6,252.3 L152.7,252.8 L151.8,253.2 L150.8,253.5 L149.7,253.7 L148.6,253.8 L147.4,253.8 L146.2,253.8 L144.9,253.7 L143.6,253.5 L142.2,253.2 L140.8,252.8 L139.3,252.3 L137.8,251.8 L136.3,251.1 L134.7,250.4 L133.1,249.6 L131.4,248.7 L129.7,247.7 L127.9,246.5 L125.7,245.1 L123.5,243.6 L121.8,242.4 L120.2,241.1 L118.7,239.9 L117.4,238.7 L116.1,237.5 L115.0,236.4 L113.9,235.2 L112.9,234.0 L112.0,232.8 L111.2,231.7 L110.5,230.5 L109.9,229.4 L109.4,228.2 L109.0,227.1 L108.7,226.0 L108.5,225.0 L108.4,223.9 L108.4,222.9 L108.6,221.9 L108.8,220.9 L109.1,219.9 L109.6,219.0 L110.3,217.8 L111.1,216.8 L111.8,216.0 L112.6,215.3 L113.4,214.7 L114.3,214.2 L115.2,213.8 L116.2,213.5 L117.3,213.3 L118.4,213.2 L119.6,213.2 L120.8,213.2 L122.1,213.3 L123.4,213.5 L124.8,213.8 L126.2,214.2 L127.7,214.7 L129.2,215.2 L130.7,215.9 L132.3,216.6 L133.9,217.4 L135.6,218.3 L137.3,219.3 L139.1,220.5 L141.3,221.9 L143.5,223.4 L145.2,224.6 L146.8,225.9 L148.3,227.1 L149.6,228.3 L150.9,229.5 L152.0,230.6 L153.1,231.8 L154.1,233.0 L155.0,234.2 L155.8,235.3 L156.5,236.5 L157.1,237.6 L157.6,238.8 L158.0,239.9 L158.3,241.0 L158.5,242.0 L158.6,243.1 L158.6,244.1 L158.4,245.1 L158.2,246.1 L157.9,247.1 L157.4,248.0Z" fill="url(#topg)" stroke="#f4f3ef" stroke-width="0.8"/>
<line x1="150.4" y1="228.5" x2="116.6" y2="238.5" stroke="#cfcdc6" stroke-width="1.8"/>
<line x1="151.6" y1="228.8" x2="117.8" y2="238.8" stroke="#fbfaf7" stroke-width="0.9"/>
<path d="M20.2,241.0 L20.2,240.1 L20.4,239.3 L20.7,238.5 L21.0,237.7 L21.5,236.9 L22.1,236.1 L22.8,235.4 L23.7,234.7 L24.6,234.0 L25.6,233.3 L26.7,232.6 L27.9,232.0 L29.2,231.4 L30.6,230.8 L32.1,230.2 L33.7,229.7 L35.3,229.2 L37.1,228.7 L38.9,228.2 L40.9,227.8 L42.9,227.4 L45.2,227.0 L47.9,226.6 L50.6,226.2 L52.9,226.0 L55.0,225.8 L57.0,225.7 L58.9,225.6 L60.7,225.6 L62.4,225.6 L64.1,225.7 L65.7,225.8 L67.2,226.0 L68.6,226.3 L69.9,226.5 L71.2,226.9 L72.3,227.2 L73.4,227.7 L74.4,228.1 L75.3,228.7 L76.1,229.2 L76.8,229.8 L77.4,230.5 L77.8,231.2 L78.2,232.0 L78.5,232.8 L78.7,233.9 L78.8,235.0 L78.8,245.0 L78.8,245.9 L78.6,246.7 L78.3,247.5 L78.0,248.3 L77.5,249.1 L76.9,249.9 L76.2,250.6 L75.3,251.3 L74.4,252.0 L73.4,252.7 L72.3,253.4 L71.1,254.0 L69.8,254.6 L68.4,255.2 L66.9,255.8 L65.3,256.3 L63.7,256.8 L61.9,257.3 L60.1,257.8 L58.1,258.2 L56.1,258.6 L53.8,259.0 L51.1,259.4 L48.4,259.8 L46.1,260.0 L44.0,260.2 L42.0,260.3 L40.1,260.4 L38.3,260.4 L36.6,260.4 L34.9,260.3 L33.3,260.2 L31.8,260.0 L30.4,259.7 L29.1,259.5 L27.8,259.1 L26.7,258.8 L25.6,258.3 L24.6,257.9 L23.7,257.3 L22.9,256.8 L22.2,256.2 L21.6,255.5 L21.2,254.8 L20.8,254.0 L20.5,253.2 L20.3,252.1 L20.2,251.0Z" fill="#000" opacity="0.18" transform="translate(2,3)" filter="url(#blur2)"/>
<path d="M20.2,241.0 L20.2,240.1 L20.4,239.3 L20.7,238.5 L21.0,237.7 L21.5,236.9 L22.1,236.1 L22.8,235.4 L23.7,234.7 L24.6,234.0 L25.6,233.3 L26.7,232.6 L27.9,232.0 L29.2,231.4 L30.6,230.8 L32.1,230.2 L33.7,229.7 L35.3,229.2 L37.1,228.7 L38.9,228.2 L40.9,227.8 L42.9,227.4 L45.2,227.0 L47.9,226.6 L50.6,226.2 L52.9,226.0 L55.0,225.8 L57.0,225.7 L58.9,225.6 L60.7,225.6 L62.4,225.6 L64.1,225.7 L65.7,225.8 L67.2,226.0 L68.6,226.3 L69.9,226.5 L71.2,226.9 L72.3,227.2 L73.4,227.7 L74.4,228.1 L75.3,228.7 L76.1,229.2 L76.8,229.8 L77.4,230.5 L77.8,231.2 L78.2,232.0 L78.5,232.8 L78.7,233.9 L78.8,235.0 L78.8,245.0 L78.8,245.9 L78.6,246.7 L78.3,247.5 L78.0,248.3 L77.5,249.1 L76.9,249.9 L76.2,250.6 L75.3,251.3 L74.4,252.0 L73.4,252.7 L72.3,253.4 L71.1,254.0 L69.8,254.6 L68.4,255.2 L66.9,255.8 L65.3,256.3 L63.7,256.8 L61.9,257.3 L60.1,257.8 L58.1,258.2 L56.1,258.6 L53.8,259.0 L51.1,259.4 L48.4,259.8 L46.1,260.0 L44.0,260.2 L42.0,260.3 L40.1,260.4 L38.3,260.4 L36.6,260.4 L34.9,260.3 L33.3,260.2 L31.8,260.0 L30.4,259.7 L29.1,259.5 L27.8,259.1 L26.7,258.8 L25.6,258.3 L24.6,257.9 L23.7,257.3 L22.9,256.8 L22.2,256.2 L21.6,255.5 L21.2,254.8 L20.8,254.0 L20.5,253.2 L20.3,252.1 L20.2,251.0Z" fill="url(#sideg)"/>
<path d="M78.7,233.9 L78.8,235.0 L78.8,235.9 L78.6,236.7 L78.3,237.5 L78.0,238.3 L77.5,239.1 L76.9,239.9 L76.2,240.6 L75.3,241.3 L74.4,242.0 L73.4,242.7 L72.3,243.4 L71.1,244.0 L69.8,244.6 L68.4,245.2 L66.9,245.8 L65.3,246.3 L63.7,246.8 L61.9,247.3 L60.1,247.8 L58.1,248.2 L56.1,248.6 L53.8,249.0 L51.1,249.4 L48.4,249.8 L46.1,250.0 L44.0,250.2 L42.0,250.3 L40.1,250.4 L38.3,250.4 L36.6,250.4 L34.9,250.3 L33.3,250.2 L31.8,250.0 L30.4,249.7 L29.1,249.5 L27.8,249.1 L26.7,248.8 L25.6,248.3 L24.6,247.9 L23.7,247.3 L22.9,246.8 L22.2,246.2 L21.6,245.5 L21.2,244.8 L20.8,244.0 L20.5,243.2 L20.3,242.1 L20.2,241.0 L20.2,240.1 L20.4,239.3 L20.7,238.5 L21.0,237.7 L21.5,236.9 L22.1,236.1 L22.8,235.4 L23.7,234.7 L24.6,234.0 L25.6,233.3 L26.7,232.6 L27.9,232.0 L29.2,231.4 L30.6,230.8 L32.1,230.2 L33.7,229.7 L35.3,229.2 L37.1,228.7 L38.9,228.2 L40.9,227.8 L42.9,227.4 L45.2,227.0 L47.9,226.6 L50.6,226.2 L52.9,226.0 L55.0,225.8 L57.0,225.7 L58.9,225.6 L60.7,225.6 L62.4,225.6 L64.1,225.7 L65.7,225.8 L67.2,226.0 L68.6,226.3 L69.9,226.5 L71.2,226.9 L72.3,227.2 L73.4,227.7 L74.4,228.1 L75.3,228.7 L76.1,229.2 L76.8,229.8 L77.4,230.5 L77.8,231.2 L78.2,232.0 L78.5,232.8Z" fill="url(#topg)" stroke="#f4f3ef" stroke-width="0.8"/>
<line x1="44.0" y1="227.5" x2="55.0" y2="248.5" stroke="#cfcdc6" stroke-width="1.8"/>
<line x1="45.2" y1="227.8" x2="56.2" y2="248.8" stroke="#fbfaf7" stroke-width="0.9"/>
<path d="M21.00,0.00 L20.91,1.78 L20.64,3.28 L20.19,4.66 L19.57,5.96 L18.78,7.17 L17.82,8.30 L16.70,9.34 L15.43,10.29 L14.01,11.14 L12.45,11.88 L10.76,12.52 L8.94,13.05 L6.99,13.46 L4.91,13.76 L2.66,13.94 L0.00,14.00 L-2.66,13.94 L-4.91,13.76 L-6.99,13.46 L-8.94,13.05 L-10.76,12.52 L-12.45,11.88 L-14.01,11.14 L-15.43,10.29 L-16.70,9.34 L-17.82,8.30 L-18.78,7.17 L-19.57,5.96 L-20.19,4.66 L-20.64,3.28 L-20.91,1.78 L-21.00,0.00 L-20.91,-1.78 L-20.64,-3.28 L-20.19,-4.66 L-19.57,-5.96 L-18.78,-7.17 L-17.82,-8.30 L-16.70,-9.34 L-15.43,-10.29 L-14.01,-11.14 L-12.45,-11.88 L-10.76,-12.52 L-8.94,-13.05 L-6.99,-13.46 L-4.91,-13.76 L-2.66,-13.94 L-0.00,-14.00 L2.66,-13.94 L4.91,-13.76 L6.99,-13.46 L8.94,-13.05 L10.76,-12.52 L12.45,-11.88 L14.01,-11.14 L15.43,-10.29 L16.70,-9.34 L17.82,-8.30 L18.78,-7.17 L19.57,-5.96 L20.19,-4.66 L20.64,-3.28 L20.91,-1.78Z" transform="translate(92.0,342.0) rotate(-62.0)" fill="#123" opacity="0.28" filter="url(#blur2)"/>
<g transform="translate(90.0,338.0) rotate(-62.0)">
<path d="M21.00,0.00 L20.91,1.78 L20.64,3.28 L20.19,4.66 L19.57,5.96 L18.78,7.17 L17.82,8.30 L16.70,9.34 L15.43,10.29 L14.01,11.14 L12.45,11.88 L10.76,12.52 L8.94,13.05 L6.99,13.46 L4.91,13.76 L2.66,13.94 L0.00,14.00 L-2.66,13.94 L-4.91,13.76 L-6.99,13.46 L-8.94,13.05 L-10.76,12.52 L-12.45,11.88 L-14.01,11.14 L-15.43,10.29 L-16.70,9.34 L-17.82,8.30 L-18.78,7.17 L-19.57,5.96 L-20.19,4.66 L-20.64,3.28 L-20.91,1.78 L-21.00,0.00 L-20.91,-1.78 L-20.64,-3.28 L-20.19,-4.66 L-19.57,-5.96 L-18.78,-7.17 L-17.82,-8.30 L-16.70,-9.34 L-15.43,-10.29 L-14.01,-11.14 L-12.45,-11.88 L-10.76,-12.52 L-8.94,-13.05 L-6.99,-13.46 L-4.91,-13.76 L-2.66,-13.94 L-0.00,-14.00 L2.66,-13.94 L4.91,-13.76 L6.99,-13.46 L8.94,-13.05 L10.76,-12.52 L12.45,-11.88 L14.01,-11.14 L15.43,-10.29 L16.70,-9.34 L17.82,-8.30 L18.78,-7.17 L19.57,-5.96 L20.19,-4.66 L20.64,-3.28 L20.91,-1.78Z" fill="url(#gelg)" stroke="#cf9020" stroke-width="1.3"/>
<ellipse cx="0" cy="7.3" rx="15.1" ry="3.6" fill="#efc63a" opacity="0.55" filter="url(#blur05)"/>
<ellipse cx="0" cy="0.7" rx="13.0" ry="4.2" fill="#a89638" opacity="0.35" filter="url(#blur05)"/>
<ellipse cx="-2.1" cy="-6.7" rx="8.8" ry="1.5" fill="#fff" opacity="0.5" filter="url(#blur05)"/>
<ellipse cx="-5.2" cy="-6.7" rx="3.6" ry="1.7" fill="#fff" opacity="0.9"/>
</g>
<path d="M20.50,0.00 L20.41,1.84 L20.15,3.39 L19.71,4.83 L19.11,6.17 L18.33,7.43 L17.40,8.60 L16.31,9.68 L15.06,10.66 L13.68,11.53 L12.16,12.31 L10.51,12.97 L8.73,13.51 L6.83,13.94 L4.80,14.25 L2.60,14.44 L0.00,14.50 L-2.60,14.44 L-4.80,14.25 L-6.83,13.94 L-8.73,13.51 L-10.51,12.97 L-12.16,12.31 L-13.68,11.53 L-15.06,10.66 L-16.31,9.68 L-17.40,8.60 L-18.33,7.43 L-19.11,6.17 L-19.71,4.83 L-20.15,3.39 L-20.41,1.84 L-20.50,0.00 L-20.41,-1.84 L-20.15,-3.39 L-19.71,-4.83 L-19.11,-6.17 L-18.33,-7.43 L-17.40,-8.60 L-16.31,-9.68 L-15.06,-10.66 L-13.68,-11.53 L-12.16,-12.31 L-10.51,-12.97 L-8.73,-13.51 L-6.83,-13.94 L-4.80,-14.25 L-2.60,-14.44 L-0.00,-14.50 L2.60,-14.44 L4.80,-14.25 L6.83,-13.94 L8.73,-13.51 L10.51,-12.97 L12.16,-12.31 L13.68,-11.53 L15.06,-10.66 L16.31,-9.68 L17.40,-8.60 L18.33,-7.43 L19.11,-6.17 L19.71,-4.83 L20.15,-3.39 L20.41,-1.84Z" transform="translate(112.0,362.5) rotate(-50.0)" fill="#123" opacity="0.28" filter="url(#blur2)"/>
<g transform="translate(110.0,358.5) rotate(-50.0)">
<path d="M20.50,0.00 L20.41,1.84 L20.15,3.39 L19.71,4.83 L19.11,6.17 L18.33,7.43 L17.40,8.60 L16.31,9.68 L15.06,10.66 L13.68,11.53 L12.16,12.31 L10.51,12.97 L8.73,13.51 L6.83,13.94 L4.80,14.25 L2.60,14.44 L0.00,14.50 L-2.60,14.44 L-4.80,14.25 L-6.83,13.94 L-8.73,13.51 L-10.51,12.97 L-12.16,12.31 L-13.68,11.53 L-15.06,10.66 L-16.31,9.68 L-17.40,8.60 L-18.33,7.43 L-19.11,6.17 L-19.71,4.83 L-20.15,3.39 L-20.41,1.84 L-20.50,0.00 L-20.41,-1.84 L-20.15,-3.39 L-19.71,-4.83 L-19.11,-6.17 L-18.33,-7.43 L-17.40,-8.60 L-16.31,-9.68 L-15.06,-10.66 L-13.68,-11.53 L-12.16,-12.31 L-10.51,-12.97 L-8.73,-13.51 L-6.83,-13.94 L-4.80,-14.25 L-2.60,-14.44 L-0.00,-14.50 L2.60,-14.44 L4.80,-14.25 L6.83,-13.94 L8.73,-13.51 L10.51,-12.97 L12.16,-12.31 L13.68,-11.53 L15.06,-10.66 L16.31,-9.68 L17.40,-8.60 L18.33,-7.43 L19.11,-6.17 L19.71,-4.83 L20.15,-3.39 L20.41,-1.84Z" fill="url(#gelg)" stroke="#cf9020" stroke-width="1.3"/>
<ellipse cx="0" cy="7.5" rx="14.8" ry="3.8" fill="#efc63a" opacity="0.55" filter="url(#blur05)"/>
<ellipse cx="0" cy="0.7" rx="12.7" ry="4.3" fill="#a89638" opacity="0.35" filter="url(#blur05)"/>
<ellipse cx="-2.1" cy="-7.0" rx="8.6" ry="1.6" fill="#fff" opacity="0.5" filter="url(#blur05)"/>
<ellipse cx="-5.1" cy="-7.0" rx="3.5" ry="1.7" fill="#fff" opacity="0.9"/>
</g>
<path d="M20.00,0.00 L19.91,1.78 L19.66,3.28 L19.23,4.66 L18.64,5.96 L17.89,7.17 L16.97,8.30 L15.91,9.34 L14.70,10.29 L13.35,11.14 L11.86,11.88 L10.25,12.52 L8.52,13.05 L6.66,13.46 L4.68,13.76 L2.54,13.94 L0.00,14.00 L-2.54,13.94 L-4.68,13.76 L-6.66,13.46 L-8.52,13.05 L-10.25,12.52 L-11.86,11.88 L-13.35,11.14 L-14.70,10.29 L-15.91,9.34 L-16.97,8.30 L-17.89,7.17 L-18.64,5.96 L-19.23,4.66 L-19.66,3.28 L-19.91,1.78 L-20.00,0.00 L-19.91,-1.78 L-19.66,-3.28 L-19.23,-4.66 L-18.64,-5.96 L-17.89,-7.17 L-16.97,-8.30 L-15.91,-9.34 L-14.70,-10.29 L-13.35,-11.14 L-11.86,-11.88 L-10.25,-12.52 L-8.52,-13.05 L-6.66,-13.46 L-4.68,-13.76 L-2.54,-13.94 L-0.00,-14.00 L2.54,-13.94 L4.68,-13.76 L6.66,-13.46 L8.52,-13.05 L10.25,-12.52 L11.86,-11.88 L13.35,-11.14 L14.70,-10.29 L15.91,-9.34 L16.97,-8.30 L17.89,-7.17 L18.64,-5.96 L19.23,-4.66 L19.66,-3.28 L19.91,-1.78Z" transform="translate(134.0,335.5) rotate(55.0)" fill="#123" opacity="0.28" filter="url(#blur2)"/>
<g transform="translate(132.0,331.5) rotate(55.0)">
<path d="M20.00,0.00 L19.91,1.78 L19.66,3.28 L19.23,4.66 L18.64,5.96 L17.89,7.17 L16.97,8.30 L15.91,9.34 L14.70,10.29 L13.35,11.14 L11.86,11.88 L10.25,12.52 L8.52,13.05 L6.66,13.46 L4.68,13.76 L2.54,13.94 L0.00,14.00 L-2.54,13.94 L-4.68,13.76 L-6.66,13.46 L-8.52,13.05 L-10.25,12.52 L-11.86,11.88 L-13.35,11.14 L-14.70,10.29 L-15.91,9.34 L-16.97,8.30 L-17.89,7.17 L-18.64,5.96 L-19.23,4.66 L-19.66,3.28 L-19.91,1.78 L-20.00,0.00 L-19.91,-1.78 L-19.66,-3.28 L-19.23,-4.66 L-18.64,-5.96 L-17.89,-7.17 L-16.97,-8.30 L-15.91,-9.34 L-14.70,-10.29 L-13.35,-11.14 L-11.86,-11.88 L-10.25,-12.52 L-8.52,-13.05 L-6.66,-13.46 L-4.68,-13.76 L-2.54,-13.94 L-0.00,-14.00 L2.54,-13.94 L4.68,-13.76 L6.66,-13.46 L8.52,-13.05 L10.25,-12.52 L11.86,-11.88 L13.35,-11.14 L14.70,-10.29 L15.91,-9.34 L16.97,-8.30 L17.89,-7.17 L18.64,-5.96 L19.23,-4.66 L19.66,-3.28 L19.91,-1.78Z" fill="url(#gelg)" stroke="#cf9020" stroke-width="1.3"/>
<ellipse cx="0" cy="7.3" rx="14.4" ry="3.6" fill="#efc63a" opacity="0.55" filter="url(#blur05)"/>
<ellipse cx="0" cy="0.7" rx="12.4" ry="4.2" fill="#a89638" opacity="0.35" filter="url(#blur05)"/>
<ellipse cx="-7.0" cy="-4.2" rx="8.4" ry="1.5" fill="#fff" opacity="0.5" filter="url(#blur05)"/>
<ellipse cx="-10.0" cy="-4.2" rx="3.4" ry="1.7" fill="#fff" opacity="0.9"/>
</g>
<path d="M20.00,0.00 L19.91,1.78 L19.66,3.28 L19.23,4.66 L18.64,5.96 L17.89,7.17 L16.97,8.30 L15.91,9.34 L14.70,10.29 L13.35,11.14 L11.86,11.88 L10.25,12.52 L8.52,13.05 L6.66,13.46 L4.68,13.76 L2.54,13.94 L0.00,14.00 L-2.54,13.94 L-4.68,13.76 L-6.66,13.46 L-8.52,13.05 L-10.25,12.52 L-11.86,11.88 L-13.35,11.14 L-14.70,10.29 L-15.91,9.34 L-16.97,8.30 L-17.89,7.17 L-18.64,5.96 L-19.23,4.66 L-19.66,3.28 L-19.91,1.78 L-20.00,0.00 L-19.91,-1.78 L-19.66,-3.28 L-19.23,-4.66 L-18.64,-5.96 L-17.89,-7.17 L-16.97,-8.30 L-15.91,-9.34 L-14.70,-10.29 L-13.35,-11.14 L-11.86,-11.88 L-10.25,-12.52 L-8.52,-13.05 L-6.66,-13.46 L-4.68,-13.76 L-2.54,-13.94 L-0.00,-14.00 L2.54,-13.94 L4.68,-13.76 L6.66,-13.46 L8.52,-13.05 L10.25,-12.52 L11.86,-11.88 L13.35,-11.14 L14.70,-10.29 L15.91,-9.34 L16.97,-8.30 L17.89,-7.17 L18.64,-5.96 L19.23,-4.66 L19.66,-3.28 L19.91,-1.78Z" transform="translate(177.5,339.5) rotate(32.0)" fill="#123" opacity="0.28" filter="url(#blur2)"/>
<g transform="translate(175.5,335.5) rotate(32.0)">
<path d="M20.00,0.00 L19.91,1.78 L19.66,3.28 L19.23,4.66 L18.64,5.96 L17.89,7.17 L16.97,8.30 L15.91,9.34 L14.70,10.29 L13.35,11.14 L11.86,11.88 L10.25,12.52 L8.52,13.05 L6.66,13.46 L4.68,13.76 L2.54,13.94 L0.00,14.00 L-2.54,13.94 L-4.68,13.76 L-6.66,13.46 L-8.52,13.05 L-10.25,12.52 L-11.86,11.88 L-13.35,11.14 L-14.70,10.29 L-15.91,9.34 L-16.97,8.30 L-17.89,7.17 L-18.64,5.96 L-19.23,4.66 L-19.66,3.28 L-19.91,1.78 L-20.00,0.00 L-19.91,-1.78 L-19.66,-3.28 L-19.23,-4.66 L-18.64,-5.96 L-17.89,-7.17 L-16.97,-8.30 L-15.91,-9.34 L-14.70,-10.29 L-13.35,-11.14 L-11.86,-11.88 L-10.25,-12.52 L-8.52,-13.05 L-6.66,-13.46 L-4.68,-13.76 L-2.54,-13.94 L-0.00,-14.00 L2.54,-13.94 L4.68,-13.76 L6.66,-13.46 L8.52,-13.05 L10.25,-12.52 L11.86,-11.88 L13.35,-11.14 L14.70,-10.29 L15.91,-9.34 L16.97,-8.30 L17.89,-7.17 L18.64,-5.96 L19.23,-4.66 L19.66,-3.28 L19.91,-1.78Z" fill="url(#gelg)" stroke="#cf9020" stroke-width="1.3"/>
<ellipse cx="0" cy="7.3" rx="14.4" ry="3.6" fill="#efc63a" opacity="0.55" filter="url(#blur05)"/>
<ellipse cx="0" cy="0.7" rx="12.4" ry="4.2" fill="#a89638" opacity="0.35" filter="url(#blur05)"/>
<ellipse cx="-2.0" cy="-6.7" rx="8.4" ry="1.5" fill="#fff" opacity="0.5" filter="url(#blur05)"/>
<ellipse cx="-5.0" cy="-6.7" rx="3.4" ry="1.7" fill="#fff" opacity="0.9"/>
</g>
<path d="M115.8,375.1 L115.8,374.1 L116.0,372.9 L116.2,371.8 L116.6,370.6 L117.0,369.3 L117.6,368.1 L118.2,366.8 L119.0,365.5 L119.8,364.1 L120.8,362.8 L121.8,361.4 L123.0,360.0 L124.2,358.6 L125.6,357.1 L127.0,355.7 L128.6,354.2 L130.3,352.6 L132.5,350.8 L134.7,349.0 L136.5,347.5 L138.3,346.2 L140.0,345.0 L141.6,344.0 L143.2,343.0 L144.8,342.1 L146.3,341.3 L147.9,340.6 L149.3,340.0 L150.7,339.5 L152.1,339.1 L153.5,338.7 L154.8,338.5 L156.0,338.4 L157.2,338.3 L158.3,338.4 L159.4,338.5 L160.4,338.8 L161.4,339.2 L162.3,339.6 L163.2,340.2 L164.0,340.9 L164.9,341.9 L165.7,342.9 L166.2,343.9 L166.6,344.8 L170.6,353.8 L170.9,354.8 L171.1,355.8 L171.2,356.9 L171.2,357.9 L171.0,359.1 L170.8,360.2 L170.4,361.4 L170.0,362.7 L169.4,363.9 L168.8,365.2 L168.0,366.5 L167.2,367.9 L166.2,369.2 L165.2,370.6 L164.0,372.0 L162.8,373.4 L161.4,374.9 L160.0,376.3 L158.4,377.8 L156.7,379.4 L154.5,381.2 L152.3,383.0 L150.5,384.5 L148.7,385.8 L147.0,387.0 L145.4,388.0 L143.8,389.0 L142.2,389.9 L140.7,390.7 L139.1,391.4 L137.7,392.0 L136.3,392.5 L134.9,392.9 L133.5,393.3 L132.2,393.5 L131.0,393.6 L129.8,393.7 L128.7,393.6 L127.6,393.5 L126.6,393.2 L125.6,392.8 L124.7,392.4 L123.8,391.8 L123.0,391.1 L122.1,390.1 L121.3,389.1 L120.8,388.1 L120.4,387.2 L116.4,378.2 L116.1,377.2 L115.9,376.2Z" fill="#000" opacity="0.18" transform="translate(2,3)" filter="url(#blur2)"/>
<path d="M115.8,375.1 L115.8,374.1 L116.0,372.9 L116.2,371.8 L116.6,370.6 L117.0,369.3 L117.6,368.1 L118.2,366.8 L119.0,365.5 L119.8,364.1 L120.8,362.8 L121.8,361.4 L123.0,360.0 L124.2,358.6 L125.6,357.1 L127.0,355.7 L128.6,354.2 L130.3,352.6 L132.5,350.8 L134.7,349.0 L136.5,347.5 L138.3,346.2 L140.0,345.0 L141.6,344.0 L143.2,343.0 L144.8,342.1 L146.3,341.3 L147.9,340.6 L149.3,340.0 L150.7,339.5 L152.1,339.1 L153.5,338.7 L154.8,338.5 L156.0,338.4 L157.2,338.3 L158.3,338.4 L159.4,338.5 L160.4,338.8 L161.4,339.2 L162.3,339.6 L163.2,340.2 L164.0,340.9 L164.9,341.9 L165.7,342.9 L166.2,343.9 L166.6,344.8 L170.6,353.8 L170.9,354.8 L171.1,355.8 L171.2,356.9 L171.2,357.9 L171.0,359.1 L170.8,360.2 L170.4,361.4 L170.0,362.7 L169.4,363.9 L168.8,365.2 L168.0,366.5 L167.2,367.9 L166.2,369.2 L165.2,370.6 L164.0,372.0 L162.8,373.4 L161.4,374.9 L160.0,376.3 L158.4,377.8 L156.7,379.4 L154.5,381.2 L152.3,383.0 L150.5,384.5 L148.7,385.8 L147.0,387.0 L145.4,388.0 L143.8,389.0 L142.2,389.9 L140.7,390.7 L139.1,391.4 L137.7,392.0 L136.3,392.5 L134.9,392.9 L133.5,393.3 L132.2,393.5 L131.0,393.6 L129.8,393.7 L128.7,393.6 L127.6,393.5 L126.6,393.2 L125.6,392.8 L124.7,392.4 L123.8,391.8 L123.0,391.1 L122.1,390.1 L121.3,389.1 L120.8,388.1 L120.4,387.2 L116.4,378.2 L116.1,377.2 L115.9,376.2Z" fill="url(#sideg)"/>
<path d="M164.9,341.9 L165.7,342.9 L166.2,343.9 L166.6,344.8 L166.9,345.8 L167.1,346.8 L167.2,347.9 L167.2,348.9 L167.0,350.1 L166.8,351.2 L166.4,352.4 L166.0,353.7 L165.4,354.9 L164.8,356.2 L164.0,357.5 L163.2,358.9 L162.2,360.2 L161.2,361.6 L160.0,363.0 L158.8,364.4 L157.4,365.9 L156.0,367.3 L154.4,368.8 L152.7,370.4 L150.5,372.2 L148.3,374.0 L146.5,375.5 L144.7,376.8 L143.0,378.0 L141.4,379.0 L139.8,380.0 L138.2,380.9 L136.7,381.7 L135.1,382.4 L133.7,383.0 L132.3,383.5 L130.9,383.9 L129.5,384.3 L128.2,384.5 L127.0,384.6 L125.8,384.7 L124.7,384.6 L123.6,384.5 L122.6,384.2 L121.6,383.8 L120.7,383.4 L119.8,382.8 L119.0,382.1 L118.1,381.1 L117.3,380.1 L116.8,379.1 L116.4,378.2 L116.1,377.2 L115.9,376.2 L115.8,375.1 L115.8,374.1 L116.0,372.9 L116.2,371.8 L116.6,370.6 L117.0,369.3 L117.6,368.1 L118.2,366.8 L119.0,365.5 L119.8,364.1 L120.8,362.8 L121.8,361.4 L123.0,360.0 L124.2,358.6 L125.6,357.1 L127.0,355.7 L128.6,354.2 L130.3,352.6 L132.5,350.8 L134.7,349.0 L136.5,347.5 L138.3,346.2 L140.0,345.0 L141.6,344.0 L143.2,343.0 L144.8,342.1 L146.3,341.3 L147.9,340.6 L149.3,340.0 L150.7,339.5 L152.1,339.1 L153.5,338.7 L154.8,338.5 L156.0,338.4 L157.2,338.3 L158.3,338.4 L159.4,338.5 L160.4,338.8 L161.4,339.2 L162.3,339.6 L163.2,340.2 L164.0,340.9Z" fill="url(#topg)" stroke="#f4f3ef" stroke-width="0.8"/>
<line x1="126.9" y1="356.0" x2="156.1" y2="367.0" stroke="#cfcdc6" stroke-width="1.8"/>
<line x1="128.1" y1="356.3" x2="157.3" y2="367.3" stroke="#fbfaf7" stroke-width="0.9"/>
<path d="M187.5,361.8 L187.6,360.7 L187.7,359.6 L188.1,358.5 L188.5,357.5 L189.1,356.5 L189.8,355.7 L190.6,354.9 L191.5,354.3 L192.5,353.7 L193.5,353.3 L194.6,353.1 L195.7,353.0 L251.7,351.0 L252.8,351.1 L253.9,351.2 L255.0,351.6 L256.0,352.0 L256.9,352.6 L257.8,353.3 L258.5,354.1 L259.2,355.0 L259.7,356.0 L260.1,357.0 L260.4,358.1 L260.5,359.2 L260.5,373.2 L260.4,374.3 L260.3,375.4 L259.9,376.5 L259.5,377.5 L258.9,378.5 L258.2,379.3 L257.4,380.1 L256.5,380.7 L255.5,381.3 L254.5,381.7 L253.4,381.9 L252.3,382.0 L196.3,384.0 L195.2,383.9 L194.1,383.8 L193.0,383.4 L192.0,383.0 L191.1,382.4 L190.2,381.7 L189.5,380.9 L188.8,380.0 L188.3,379.0 L187.9,378.0 L187.6,376.9 L187.5,375.8Z" fill="#000" opacity="0.18" transform="translate(2,3)" filter="url(#blur2)"/>
<path d="M187.5,361.8 L187.6,360.7 L187.7,359.6 L188.1,358.5 L188.5,357.5 L189.1,356.5 L189.8,355.7 L190.6,354.9 L191.5,354.3 L192.5,353.7 L193.5,353.3 L194.6,353.1 L195.7,353.0 L251.7,351.0 L252.8,351.1 L253.9,351.2 L255.0,351.6 L256.0,352.0 L256.9,352.6 L257.8,353.3 L258.5,354.1 L259.2,355.0 L259.7,356.0 L260.1,357.0 L260.4,358.1 L260.5,359.2 L260.5,373.2 L260.4,374.3 L260.3,375.4 L259.9,376.5 L259.5,377.5 L258.9,378.5 L258.2,379.3 L257.4,380.1 L256.5,380.7 L255.5,381.3 L254.5,381.7 L253.4,381.9 L252.3,382.0 L196.3,384.0 L195.2,383.9 L194.1,383.8 L193.0,383.4 L192.0,383.0 L191.1,382.4 L190.2,381.7 L189.5,380.9 L188.8,380.0 L188.3,379.0 L187.9,378.0 L187.6,376.9 L187.5,375.8Z" fill="url(#sideg)"/>
<path d="M260.5,359.2 L260.4,360.3 L260.3,361.4 L259.9,362.5 L259.5,363.5 L258.9,364.5 L258.2,365.3 L257.4,366.1 L256.5,366.7 L255.5,367.3 L254.5,367.7 L253.4,367.9 L252.3,368.0 L196.3,370.0 L195.2,369.9 L194.1,369.8 L193.0,369.4 L192.0,369.0 L191.1,368.4 L190.2,367.7 L189.5,366.9 L188.8,366.0 L188.3,365.0 L187.9,364.0 L187.6,362.9 L187.5,361.8 L187.5,361.8 L187.6,360.7 L187.7,359.6 L188.1,358.5 L188.5,357.5 L189.1,356.5 L189.8,355.7 L190.6,354.9 L191.5,354.3 L192.5,353.7 L193.5,353.3 L194.6,353.1 L195.7,353.0 L251.7,351.0 L252.8,351.1 L253.9,351.2 L255.0,351.6 L256.0,352.0 L256.9,352.6 L257.8,353.3 L258.5,354.1 L259.2,355.0 L259.7,356.0 L260.1,357.0 L260.4,358.1 L260.5,359.2Z" fill="url(#topg)" stroke="#f4f3ef" stroke-width="0.8"/>
<path d="M184.0,392.7 L184.2,391.6 L184.4,390.5 L184.8,389.6 L185.2,388.9 L185.7,388.1 L186.4,387.5 L187.1,386.8 L188.0,386.3 L188.9,385.8 L189.9,385.3 L191.1,384.9 L192.3,384.6 L193.7,384.3 L195.1,384.0 L196.6,383.8 L198.2,383.7 L199.8,383.6 L201.6,383.6 L203.4,383.6 L205.3,383.7 L207.3,383.9 L209.4,384.1 L211.6,384.4 L213.9,384.7 L216.8,385.2 L219.6,385.7 L222.0,386.2 L224.1,386.7 L226.1,387.2 L228.1,387.7 L229.9,388.3 L231.6,388.9 L233.2,389.5 L234.8,390.2 L236.2,390.8 L237.6,391.5 L238.8,392.2 L240.0,393.0 L241.0,393.7 L242.0,394.5 L242.8,395.3 L243.5,396.1 L244.1,396.9 L244.6,397.7 L245.0,398.6 L245.2,399.4 L245.4,400.3 L245.4,401.3 L245.4,411.3 L245.2,412.4 L245.0,413.5 L244.6,414.4 L244.2,415.1 L243.7,415.9 L243.0,416.5 L242.3,417.2 L241.4,417.7 L240.5,418.2 L239.5,418.7 L238.3,419.1 L237.1,419.4 L235.7,419.7 L234.3,420.0 L232.8,420.2 L231.2,420.3 L229.6,420.4 L227.8,420.4 L226.0,420.4 L224.1,420.3 L222.1,420.1 L220.0,419.9 L217.8,419.6 L215.5,419.3 L212.6,418.8 L209.8,418.3 L207.4,417.8 L205.3,417.3 L203.3,416.8 L201.3,416.3 L199.5,415.7 L197.8,415.1 L196.2,414.5 L194.6,413.8 L193.2,413.2 L191.8,412.5 L190.6,411.8 L189.4,411.0 L188.4,410.3 L187.4,409.5 L186.6,408.7 L185.9,407.9 L185.3,407.1 L184.8,406.3 L184.4,405.4 L184.2,404.6 L184.0,403.7 L184.0,402.7Z" fill="#000" opacity="0.18" transform="translate(2,3)" filter="url(#blur2)"/>
<path d="M184.0,392.7 L184.2,391.6 L184.4,390.5 L184.8,389.6 L185.2,388.9 L185.7,388.1 L186.4,387.5 L187.1,386.8 L188.0,386.3 L188.9,385.8 L189.9,385.3 L191.1,384.9 L192.3,384.6 L193.7,384.3 L195.1,384.0 L196.6,383.8 L198.2,383.7 L199.8,383.6 L201.6,383.6 L203.4,383.6 L205.3,383.7 L207.3,383.9 L209.4,384.1 L211.6,384.4 L213.9,384.7 L216.8,385.2 L219.6,385.7 L222.0,386.2 L224.1,386.7 L226.1,387.2 L228.1,387.7 L229.9,388.3 L231.6,388.9 L233.2,389.5 L234.8,390.2 L236.2,390.8 L237.6,391.5 L238.8,392.2 L240.0,393.0 L241.0,393.7 L242.0,394.5 L242.8,395.3 L243.5,396.1 L244.1,396.9 L244.6,397.7 L245.0,398.6 L245.2,399.4 L245.4,400.3 L245.4,401.3 L245.4,411.3 L245.2,412.4 L245.0,413.5 L244.6,414.4 L244.2,415.1 L243.7,415.9 L243.0,416.5 L242.3,417.2 L241.4,417.7 L240.5,418.2 L239.5,418.7 L238.3,419.1 L237.1,419.4 L235.7,419.7 L234.3,420.0 L232.8,420.2 L231.2,420.3 L229.6,420.4 L227.8,420.4 L226.0,420.4 L224.1,420.3 L222.1,420.1 L220.0,419.9 L217.8,419.6 L215.5,419.3 L212.6,418.8 L209.8,418.3 L207.4,417.8 L205.3,417.3 L203.3,416.8 L201.3,416.3 L199.5,415.7 L197.8,415.1 L196.2,414.5 L194.6,413.8 L193.2,413.2 L191.8,412.5 L190.6,411.8 L189.4,411.0 L188.4,410.3 L187.4,409.5 L186.6,408.7 L185.9,407.9 L185.3,407.1 L184.8,406.3 L184.4,405.4 L184.2,404.6 L184.0,403.7 L184.0,402.7Z" fill="url(#sideg)"/>
<path d="M245.2,402.4 L245.0,403.5 L244.6,404.4 L244.2,405.1 L243.7,405.9 L243.0,406.5 L242.3,407.2 L241.4,407.7 L240.5,408.2 L239.5,408.7 L238.3,409.1 L237.1,409.4 L235.7,409.7 L234.3,410.0 L232.8,410.2 L231.2,410.3 L229.6,410.4 L227.8,410.4 L226.0,410.4 L224.1,410.3 L222.1,410.1 L220.0,409.9 L217.8,409.6 L215.5,409.3 L212.6,408.8 L209.8,408.3 L207.4,407.8 L205.3,407.3 L203.3,406.8 L201.3,406.3 L199.5,405.7 L197.8,405.1 L196.2,404.5 L194.6,403.8 L193.2,403.2 L191.8,402.5 L190.6,401.8 L189.4,401.0 L188.4,400.3 L187.4,399.5 L186.6,398.7 L185.9,397.9 L185.3,397.1 L184.8,396.3 L184.4,395.4 L184.2,394.6 L184.0,393.7 L184.0,392.7 L184.2,391.6 L184.4,390.5 L184.8,389.6 L185.2,388.9 L185.7,388.1 L186.4,387.5 L187.1,386.8 L188.0,386.3 L188.9,385.8 L189.9,385.3 L191.1,384.9 L192.3,384.6 L193.7,384.3 L195.1,384.0 L196.6,383.8 L198.2,383.7 L199.8,383.6 L201.6,383.6 L203.4,383.6 L205.3,383.7 L207.3,383.9 L209.4,384.1 L211.6,384.4 L213.9,384.7 L216.8,385.2 L219.6,385.7 L222.0,386.2 L224.1,386.7 L226.1,387.2 L228.1,387.7 L229.9,388.3 L231.6,388.9 L233.2,389.5 L234.8,390.2 L236.2,390.8 L237.6,391.5 L238.8,392.2 L240.0,393.0 L241.0,393.7 L242.0,394.5 L242.8,395.3 L243.5,396.1 L244.1,396.9 L244.6,397.7 L245.0,398.6 L245.2,399.4 L245.4,400.3 L245.4,401.3Z" fill="url(#topg)" stroke="#f4f3ef" stroke-width="0.8"/>
<line x1="222.6" y1="386.6" x2="206.8" y2="407.4" stroke="#cfcdc6" stroke-width="1.8"/>
<line x1="223.8" y1="386.9" x2="208.0" y2="407.7" stroke="#fbfaf7" stroke-width="0.9"/>
<path d="M248.3,382.6 L248.4,381.6 L248.6,380.7 L249.0,379.5 L249.5,378.4 L250.1,377.5 L250.6,376.8 L251.3,376.1 L252.1,375.5 L252.9,375.0 L253.8,374.5 L254.8,374.1 L255.8,373.8 L256.9,373.6 L258.1,373.4 L259.4,373.3 L260.7,373.3 L262.1,373.3 L263.6,373.4 L265.1,373.6 L266.7,373.9 L268.3,374.2 L270.0,374.6 L271.7,375.1 L273.5,375.6 L275.4,376.3 L277.4,377.0 L279.9,377.9 L282.3,378.9 L284.3,379.8 L286.1,380.7 L287.7,381.5 L289.3,382.4 L290.8,383.3 L292.2,384.2 L293.5,385.1 L294.7,386.0 L295.8,387.0 L296.9,387.9 L297.8,388.8 L298.6,389.8 L299.4,390.7 L300.0,391.7 L300.6,392.7 L301.0,393.6 L301.3,394.6 L301.6,395.5 L301.7,396.5 L301.7,397.4 L301.7,406.4 L301.6,407.4 L301.4,408.3 L301.0,409.5 L300.5,410.6 L299.9,411.5 L299.4,412.2 L298.7,412.9 L297.9,413.5 L297.1,414.0 L296.2,414.5 L295.2,414.9 L294.2,415.2 L293.1,415.4 L291.9,415.6 L290.6,415.7 L289.3,415.7 L287.9,415.7 L286.4,415.6 L284.9,415.4 L283.3,415.1 L281.7,414.8 L280.0,414.4 L278.3,413.9 L276.5,413.4 L274.6,412.7 L272.6,412.0 L270.1,411.1 L267.7,410.1 L265.7,409.2 L263.9,408.3 L262.3,407.5 L260.7,406.6 L259.2,405.7 L257.8,404.8 L256.5,403.9 L255.3,403.0 L254.2,402.0 L253.1,401.1 L252.2,400.2 L251.4,399.2 L250.6,398.3 L250.0,397.3 L249.4,396.3 L249.0,395.4 L248.7,394.4 L248.4,393.5 L248.3,392.5 L248.3,391.6Z" fill="#000" opacity="0.18" transform="translate(2,3)" filter="url(#blur2)"/>
<path d="M248.3,382.6 L248.4,381.6 L248.6,380.7 L249.0,379.5 L249.5,378.4 L250.1,377.5 L250.6,376.8 L251.3,376.1 L252.1,375.5 L252.9,375.0 L253.8,374.5 L254.8,374.1 L255.8,373.8 L256.9,373.6 L258.1,373.4 L259.4,373.3 L260.7,373.3 L262.1,373.3 L263.6,373.4 L265.1,373.6 L266.7,373.9 L268.3,374.2 L270.0,374.6 L271.7,375.1 L273.5,375.6 L275.4,376.3 L277.4,377.0 L279.9,377.9 L282.3,378.9 L284.3,379.8 L286.1,380.7 L287.7,381.5 L289.3,382.4 L290.8,383.3 L292.2,384.2 L293.5,385.1 L294.7,386.0 L295.8,387.0 L296.9,387.9 L297.8,388.8 L298.6,389.8 L299.4,390.7 L300.0,391.7 L300.6,392.7 L301.0,393.6 L301.3,394.6 L301.6,395.5 L301.7,396.5 L301.7,397.4 L301.7,406.4 L301.6,407.4 L301.4,408.3 L301.0,409.5 L300.5,410.6 L299.9,411.5 L299.4,412.2 L298.7,412.9 L297.9,413.5 L297.1,414.0 L296.2,414.5 L295.2,414.9 L294.2,415.2 L293.1,415.4 L291.9,415.6 L290.6,415.7 L289.3,415.7 L287.9,415.7 L286.4,415.6 L284.9,415.4 L283.3,415.1 L281.7,414.8 L280.0,414.4 L278.3,413.9 L276.5,413.4 L274.6,412.7 L272.6,412.0 L270.1,411.1 L267.7,410.1 L265.7,409.2 L263.9,408.3 L262.3,407.5 L260.7,406.6 L259.2,405.7 L257.8,404.8 L256.5,403.9 L255.3,403.0 L254.2,402.0 L253.1,401.1 L252.2,400.2 L251.4,399.2 L250.6,398.3 L250.0,397.3 L249.4,396.3 L249.0,395.4 L248.7,394.4 L248.4,393.5 L248.3,392.5 L248.3,391.6Z" fill="url(#sideg)"/>
<path d="M301.0,400.5 L300.5,401.6 L299.9,402.5 L299.4,403.2 L298.7,403.9 L297.9,404.5 L297.1,405.0 L296.2,405.5 L295.2,405.9 L294.2,406.2 L293.1,406.4 L291.9,406.6 L290.6,406.7 L289.3,406.7 L287.9,406.7 L286.4,406.6 L284.9,406.4 L283.3,406.1 L281.7,405.8 L280.0,405.4 L278.3,404.9 L276.5,404.4 L274.6,403.7 L272.6,403.0 L270.1,402.1 L267.7,401.1 L265.7,400.2 L263.9,399.3 L262.3,398.5 L260.7,397.6 L259.2,396.7 L257.8,395.8 L256.5,394.9 L255.3,394.0 L254.2,393.0 L253.1,392.1 L252.2,391.2 L251.4,390.2 L250.6,389.3 L250.0,388.3 L249.4,387.3 L249.0,386.4 L248.7,385.4 L248.4,384.5 L248.3,383.5 L248.3,382.6 L248.4,381.6 L248.6,380.7 L249.0,379.5 L249.5,378.4 L250.1,377.5 L250.6,376.8 L251.3,376.1 L252.1,375.5 L252.9,375.0 L253.8,374.5 L254.8,374.1 L255.8,373.8 L256.9,373.6 L258.1,373.4 L259.4,373.3 L260.7,373.3 L262.1,373.3 L263.6,373.4 L265.1,373.6 L266.7,373.9 L268.3,374.2 L270.0,374.6 L271.7,375.1 L273.5,375.6 L275.4,376.3 L277.4,377.0 L279.9,377.9 L282.3,378.9 L284.3,379.8 L286.1,380.7 L287.7,381.5 L289.3,382.4 L290.8,383.3 L292.2,384.2 L293.5,385.1 L294.7,386.0 L295.8,387.0 L296.9,387.9 L297.8,388.8 L298.6,389.8 L299.4,390.7 L300.0,391.7 L300.6,392.7 L301.0,393.6 L301.3,394.6 L301.6,395.5 L301.7,396.5 L301.7,397.4 L301.6,398.4 L301.4,399.3Z" fill="url(#topg)" stroke="#f4f3ef" stroke-width="0.8"/>
<line x1="286.4" y1="381.0" x2="263.6" y2="399.0" stroke="#cfcdc6" stroke-width="1.8"/>
<line x1="287.6" y1="381.3" x2="264.8" y2="399.3" stroke="#fbfaf7" stroke-width="0.9"/>
<path d="M322.1,369.3 L322.2,368.4 L322.4,367.5 L322.7,366.7 L323.2,365.9 L323.7,365.2 L324.4,364.5 L325.1,363.8 L326.0,363.1 L327.0,362.4 L328.1,361.8 L329.3,361.2 L330.5,360.6 L331.9,360.1 L333.4,359.6 L334.9,359.1 L336.5,358.7 L338.3,358.3 L340.1,357.9 L342.0,357.6 L344.0,357.3 L346.1,357.1 L348.4,356.8 L351.2,356.6 L354.0,356.5 L356.3,356.4 L358.4,356.3 L360.4,356.3 L362.4,356.4 L364.2,356.5 L366.0,356.7 L367.7,356.9 L369.3,357.1 L370.8,357.4 L372.2,357.7 L373.5,358.1 L374.8,358.5 L375.9,359.0 L377.0,359.5 L378.0,360.1 L378.8,360.7 L379.6,361.3 L380.2,362.0 L380.8,362.7 L381.2,363.4 L381.6,364.2 L381.8,365.1 L381.9,366.2 L381.9,367.3 L381.9,378.3 L381.8,379.2 L381.6,380.1 L381.3,380.9 L380.8,381.7 L380.3,382.4 L379.6,383.1 L378.9,383.8 L378.0,384.5 L377.0,385.2 L375.9,385.8 L374.7,386.4 L373.5,387.0 L372.1,387.5 L370.6,388.0 L369.1,388.5 L367.5,388.9 L365.7,389.3 L363.9,389.7 L362.0,390.0 L360.0,390.3 L357.9,390.5 L355.6,390.8 L352.8,391.0 L350.0,391.1 L347.7,391.2 L345.6,391.3 L343.6,391.3 L341.6,391.2 L339.8,391.1 L338.0,390.9 L336.3,390.7 L334.7,390.5 L333.2,390.2 L331.8,389.9 L330.5,389.5 L329.2,389.1 L328.1,388.6 L327.0,388.1 L326.0,387.5 L325.2,386.9 L324.4,386.3 L323.8,385.6 L323.2,384.9 L322.8,384.2 L322.4,383.4 L322.2,382.5 L322.1,381.4 L322.1,380.3Z" fill="#000" opacity="0.18" transform="translate(2,3)" filter="url(#blur2)"/>
<path d="M322.1,369.3 L322.2,368.4 L322.4,367.5 L322.7,366.7 L323.2,365.9 L323.7,365.2 L324.4,364.5 L325.1,363.8 L326.0,363.1 L327.0,362.4 L328.1,361.8 L329.3,361.2 L330.5,360.6 L331.9,360.1 L333.4,359.6 L334.9,359.1 L336.5,358.7 L338.3,358.3 L340.1,357.9 L342.0,357.6 L344.0,357.3 L346.1,357.1 L348.4,356.8 L351.2,356.6 L354.0,356.5 L356.3,356.4 L358.4,356.3 L360.4,356.3 L362.4,356.4 L364.2,356.5 L366.0,356.7 L367.7,356.9 L369.3,357.1 L370.8,357.4 L372.2,357.7 L373.5,358.1 L374.8,358.5 L375.9,359.0 L377.0,359.5 L378.0,360.1 L378.8,360.7 L379.6,361.3 L380.2,362.0 L380.8,362.7 L381.2,363.4 L381.6,364.2 L381.8,365.1 L381.9,366.2 L381.9,367.3 L381.9,378.3 L381.8,379.2 L381.6,380.1 L381.3,380.9 L380.8,381.7 L380.3,382.4 L379.6,383.1 L378.9,383.8 L378.0,384.5 L377.0,385.2 L375.9,385.8 L374.7,386.4 L373.5,387.0 L372.1,387.5 L370.6,388.0 L369.1,388.5 L367.5,388.9 L365.7,389.3 L363.9,389.7 L362.0,390.0 L360.0,390.3 L357.9,390.5 L355.6,390.8 L352.8,391.0 L350.0,391.1 L347.7,391.2 L345.6,391.3 L343.6,391.3 L341.6,391.2 L339.8,391.1 L338.0,390.9 L336.3,390.7 L334.7,390.5 L333.2,390.2 L331.8,389.9 L330.5,389.5 L329.2,389.1 L328.1,388.6 L327.0,388.1 L326.0,387.5 L325.2,386.9 L324.4,386.3 L323.8,385.6 L323.2,384.9 L322.8,384.2 L322.4,383.4 L322.2,382.5 L322.1,381.4 L322.1,380.3Z" fill="url(#sideg)"/>
<path d="M381.9,366.2 L381.9,367.3 L381.8,368.2 L381.6,369.1 L381.3,369.9 L380.8,370.7 L380.3,371.4 L379.6,372.1 L378.9,372.8 L378.0,373.5 L377.0,374.2 L375.9,374.8 L374.7,375.4 L373.5,376.0 L372.1,376.5 L370.6,377.0 L369.1,377.5 L367.5,377.9 L365.7,378.3 L363.9,378.7 L362.0,379.0 L360.0,379.3 L357.9,379.5 L355.6,379.8 L352.8,380.0 L350.0,380.1 L347.7,380.2 L345.6,380.3 L343.6,380.3 L341.6,380.2 L339.8,380.1 L338.0,379.9 L336.3,379.7 L334.7,379.5 L333.2,379.2 L331.8,378.9 L330.5,378.5 L329.2,378.1 L328.1,377.6 L327.0,377.1 L326.0,376.5 L325.2,375.9 L324.4,375.3 L323.8,374.6 L323.2,373.9 L322.8,373.2 L322.4,372.4 L322.2,371.5 L322.1,370.4 L322.1,369.3 L322.2,368.4 L322.4,367.5 L322.7,366.7 L323.2,365.9 L323.7,365.2 L324.4,364.5 L325.1,363.8 L326.0,363.1 L327.0,362.4 L328.1,361.8 L329.3,361.2 L330.5,360.6 L331.9,360.1 L333.4,359.6 L334.9,359.1 L336.5,358.7 L338.3,358.3 L340.1,357.9 L342.0,357.6 L344.0,357.3 L346.1,357.1 L348.4,356.8 L351.2,356.6 L354.0,356.5 L356.3,356.4 L358.4,356.3 L360.4,356.3 L362.4,356.4 L364.2,356.5 L366.0,356.7 L367.7,356.9 L369.3,357.1 L370.8,357.4 L372.2,357.7 L373.5,358.1 L374.8,358.5 L375.9,359.0 L377.0,359.5 L378.0,360.1 L378.8,360.7 L379.6,361.3 L380.2,362.0 L380.8,362.7 L381.2,363.4 L381.6,364.2 L381.8,365.1Z" fill="url(#topg)" stroke="#f4f3ef" stroke-width="0.8"/>
<line x1="357.0" y1="356.6" x2="347.0" y2="380.0" stroke="#cfcdc6" stroke-width="1.8"/>
<line x1="358.2" y1="356.9" x2="348.2" y2="380.3" stroke="#fbfaf7" stroke-width="0.9"/>
<g>
<path d="M587.9,350.9 L587.9,349.8 L588.9,339.8 L589.1,338.8 L589.3,337.8 L589.7,336.8 L590.3,335.9 L590.9,335.1 L591.6,334.3 L592.5,333.7 L593.4,333.2 L659.9,300.7 L660.9,300.4 L661.9,300.1 L662.9,300.0 L664.0,300.0 L665.0,300.1 L666.0,300.4 L667.0,300.8 L667.9,301.3 L668.7,301.9 L669.4,302.7 L670.1,303.5 L670.6,304.4 L676.3,316.1 L676.7,317.1 L677.0,318.1 L677.1,319.1 L677.1,320.2 L676.1,330.2 L675.9,331.2 L675.7,332.2 L675.3,333.2 L674.7,334.1 L674.1,334.9 L673.4,335.7 L672.5,336.3 L671.6,336.8 L605.1,369.3 L604.1,369.6 L603.1,369.9 L602.1,370.0 L601.0,370.0 L600.0,369.9 L599.0,369.6 L598.0,369.2 L597.1,368.7 L596.3,368.1 L595.6,367.3 L594.9,366.5 L594.4,365.6 L588.7,353.9 L588.3,352.9 L588.0,351.9Z" fill="#000" opacity="0.18" transform="translate(2,3)" filter="url(#blur2)"/>
<path d="M587.9,350.9 L587.9,349.8 L588.9,339.8 L589.1,338.8 L589.3,337.8 L589.7,336.8 L590.3,335.9 L590.9,335.1 L591.6,334.3 L592.5,333.7 L593.4,333.2 L659.9,300.7 L660.9,300.4 L661.9,300.1 L662.9,300.0 L664.0,300.0 L665.0,300.1 L666.0,300.4 L667.0,300.8 L667.9,301.3 L668.7,301.9 L669.4,302.7 L670.1,303.5 L670.6,304.4 L676.3,316.1 L676.7,317.1 L677.0,318.1 L677.1,319.1 L677.1,320.2 L676.1,330.2 L675.9,331.2 L675.7,332.2 L675.3,333.2 L674.7,334.1 L674.1,334.9 L673.4,335.7 L672.5,336.3 L671.6,336.8 L605.1,369.3 L604.1,369.6 L603.1,369.9 L602.1,370.0 L601.0,370.0 L600.0,369.9 L599.0,369.6 L598.0,369.2 L597.1,368.7 L596.3,368.1 L595.6,367.3 L594.9,366.5 L594.4,365.6 L588.7,353.9 L588.3,352.9 L588.0,351.9Z" fill="url(#sideg)"/>
<path d="M676.3,316.1 L676.7,317.1 L677.0,318.1 L677.1,319.1 L677.1,320.2 L676.9,321.2 L676.7,322.2 L676.3,323.2 L675.7,324.1 L675.1,324.9 L674.4,325.7 L673.5,326.3 L672.6,326.8 L606.1,359.3 L605.1,359.6 L604.1,359.9 L603.1,360.0 L602.0,360.0 L601.0,359.9 L600.0,359.6 L599.0,359.2 L598.1,358.7 L597.3,358.1 L596.6,357.3 L595.9,356.5 L595.4,355.6 L589.7,343.9 L589.3,342.9 L589.0,341.9 L588.9,340.9 L588.9,339.8 L589.1,338.8 L589.3,337.8 L589.7,336.8 L590.3,335.9 L590.9,335.1 L591.6,334.3 L592.5,333.7 L593.4,333.2 L659.9,300.7 L660.9,300.4 L661.9,300.1 L662.9,300.0 L664.0,300.0 L665.0,300.1 L666.0,300.4 L667.0,300.8 L667.9,301.3 L668.7,301.9 L669.4,302.7 L670.1,303.5 L670.6,304.4Z" fill="url(#topg)" stroke="#f4f3ef" stroke-width="0.8"/>
<path d="M622.9,374.5 L623.0,373.5 L624.0,363.5 L624.2,362.5 L624.5,361.5 L624.9,360.5 L625.5,359.6 L626.2,358.9 L627.0,358.2 L627.8,357.6 L628.8,357.1 L695.1,329.0 L696.0,328.6 L697.1,328.4 L698.1,328.3 L699.2,328.4 L700.2,328.6 L701.2,328.9 L702.1,329.4 L703.0,329.9 L703.8,330.6 L704.5,331.4 L705.1,332.3 L705.5,333.2 L709.5,342.4 L709.8,343.4 L710.0,344.4 L710.1,345.5 L710.0,346.5 L709.0,356.5 L708.8,357.5 L708.5,358.5 L708.1,359.5 L707.5,360.4 L706.8,361.1 L706.0,361.8 L705.2,362.4 L704.2,362.9 L637.9,391.0 L637.0,391.4 L635.9,391.6 L634.9,391.7 L633.8,391.6 L632.8,391.4 L631.8,391.1 L630.9,390.6 L630.0,390.1 L629.2,389.4 L628.5,388.6 L627.9,387.7 L627.5,386.8 L623.5,377.6 L623.2,376.6 L623.0,375.6Z" fill="#000" opacity="0.18" transform="translate(2,3)" filter="url(#blur2)"/>
<path d="M622.9,374.5 L623.0,373.5 L624.0,363.5 L624.2,362.5 L624.5,361.5 L624.9,360.5 L625.5,359.6 L626.2,358.9 L627.0,358.2 L627.8,357.6 L628.8,357.1 L695.1,329.0 L696.0,328.6 L697.1,328.4 L698.1,328.3 L699.2,328.4 L700.2,328.6 L701.2,328.9 L702.1,329.4 L703.0,329.9 L703.8,330.6 L704.5,331.4 L705.1,332.3 L705.5,333.2 L709.5,342.4 L709.8,343.4 L710.0,344.4 L710.1,345.5 L710.0,346.5 L709.0,356.5 L708.8,357.5 L708.5,358.5 L708.1,359.5 L707.5,360.4 L706.8,361.1 L706.0,361.8 L705.2,362.4 L704.2,362.9 L637.9,391.0 L637.0,391.4 L635.9,391.6 L634.9,391.7 L633.8,391.6 L632.8,391.4 L631.8,391.1 L630.9,390.6 L630.0,390.1 L629.2,389.4 L628.5,388.6 L627.9,387.7 L627.5,386.8 L623.5,377.6 L623.2,376.6 L623.0,375.6Z" fill="url(#sideg)"/>
<path d="M709.5,342.4 L709.8,343.4 L710.0,344.4 L710.1,345.5 L710.0,346.5 L709.8,347.5 L709.5,348.5 L709.1,349.5 L708.5,350.4 L707.8,351.1 L707.0,351.8 L706.2,352.4 L705.2,352.9 L638.9,381.0 L638.0,381.4 L636.9,381.6 L635.9,381.7 L634.8,381.6 L633.8,381.4 L632.8,381.1 L631.9,380.6 L631.0,380.1 L630.2,379.4 L629.5,378.6 L628.9,377.7 L628.5,376.8 L624.5,367.6 L624.2,366.6 L624.0,365.6 L623.9,364.5 L624.0,363.5 L624.2,362.5 L624.5,361.5 L624.9,360.5 L625.5,359.6 L626.2,358.9 L627.0,358.2 L627.8,357.6 L628.8,357.1 L695.1,329.0 L696.0,328.6 L697.1,328.4 L698.1,328.3 L699.2,328.4 L700.2,328.6 L701.2,328.9 L702.1,329.4 L703.0,329.9 L703.8,330.6 L704.5,331.4 L705.1,332.3 L705.5,333.2Z" fill="url(#topg)" stroke="#f4f3ef" stroke-width="0.8"/>
<text x="634.2" y="333.5" font-size="11.5" fill="#3a3836" stroke="#3a3836" stroke-width="0.35" text-anchor="middle" textLength="57" lengthAdjust="spacingAndGlyphs" transform="rotate(-29 634.2 329.7)">Calireal B10</text>
<text x="667.5" y="356" font-size="11.5" fill="#3a3836" stroke="#3a3836" stroke-width="0.35" text-anchor="middle" textLength="52" lengthAdjust="spacingAndGlyphs" transform="rotate(-27 667.5 352)">mlo lIzɐɡt-1</text>
</g>
<path d="M20.00,0.00 L19.91,1.78 L19.66,3.28 L19.23,4.66 L18.64,5.96 L17.89,7.17 L16.97,8.30 L15.91,9.34 L14.70,10.29 L13.35,11.14 L11.86,11.88 L10.25,12.52 L8.52,13.05 L6.66,13.46 L4.68,13.76 L2.54,13.94 L0.00,14.00 L-2.54,13.94 L-4.68,13.76 L-6.66,13.46 L-8.52,13.05 L-10.25,12.52 L-11.86,11.88 L-13.35,11.14 L-14.70,10.29 L-15.91,9.34 L-16.97,8.30 L-17.89,7.17 L-18.64,5.96 L-19.23,4.66 L-19.66,3.28 L-19.91,1.78 L-20.00,0.00 L-19.91,-1.78 L-19.66,-3.28 L-19.23,-4.66 L-18.64,-5.96 L-17.89,-7.17 L-16.97,-8.30 L-15.91,-9.34 L-14.70,-10.29 L-13.35,-11.14 L-11.86,-11.88 L-10.25,-12.52 L-8.52,-13.05 L-6.66,-13.46 L-4.68,-13.76 L-2.54,-13.94 L-0.00,-14.00 L2.54,-13.94 L4.68,-13.76 L6.66,-13.46 L8.52,-13.05 L10.25,-12.52 L11.86,-11.88 L13.35,-11.14 L14.70,-10.29 L15.91,-9.34 L16.97,-8.30 L17.89,-7.17 L18.64,-5.96 L19.23,-4.66 L19.66,-3.28 L19.91,-1.78Z" transform="translate(349.5,302.0) rotate(5.0)" fill="#123" opacity="0.28" filter="url(#blur2)"/>
<g transform="translate(347.5,298.0) rotate(5.0)">
<path d="M20.00,0.00 L19.91,1.78 L19.66,3.28 L19.23,4.66 L18.64,5.96 L17.89,7.17 L16.97,8.30 L15.91,9.34 L14.70,10.29 L13.35,11.14 L11.86,11.88 L10.25,12.52 L8.52,13.05 L6.66,13.46 L4.68,13.76 L2.54,13.94 L0.00,14.00 L-2.54,13.94 L-4.68,13.76 L-6.66,13.46 L-8.52,13.05 L-10.25,12.52 L-11.86,11.88 L-13.35,11.14 L-14.70,10.29 L-15.91,9.34 L-16.97,8.30 L-17.89,7.17 L-18.64,5.96 L-19.23,4.66 L-19.66,3.28 L-19.91,1.78 L-20.00,0.00 L-19.91,-1.78 L-19.66,-3.28 L-19.23,-4.66 L-18.64,-5.96 L-17.89,-7.17 L-16.97,-8.30 L-15.91,-9.34 L-14.70,-10.29 L-13.35,-11.14 L-11.86,-11.88 L-10.25,-12.52 L-8.52,-13.05 L-6.66,-13.46 L-4.68,-13.76 L-2.54,-13.94 L-0.00,-14.00 L2.54,-13.94 L4.68,-13.76 L6.66,-13.46 L8.52,-13.05 L10.25,-12.52 L11.86,-11.88 L13.35,-11.14 L14.70,-10.29 L15.91,-9.34 L16.97,-8.30 L17.89,-7.17 L18.64,-5.96 L19.23,-4.66 L19.66,-3.28 L19.91,-1.78Z" fill="url(#gelg)" stroke="#cf9020" stroke-width="1.3"/>
<ellipse cx="0" cy="7.3" rx="14.4" ry="3.6" fill="#efc63a" opacity="0.55" filter="url(#blur05)"/>
<ellipse cx="0" cy="0.7" rx="12.4" ry="4.2" fill="#a89638" opacity="0.35" filter="url(#blur05)"/>
<ellipse cx="-2.0" cy="-6.7" rx="8.4" ry="1.5" fill="#fff" opacity="0.5" filter="url(#blur05)"/>
<ellipse cx="-5.0" cy="-6.7" rx="3.4" ry="1.7" fill="#fff" opacity="0.9"/>
</g>
<ellipse cx="297" cy="253" rx="61" ry="31" fill="#000" opacity="0.15" filter="url(#blur2)"/>
<ellipse cx="294.3" cy="250" rx="61" ry="31" fill="url(#orgg)" stroke="#d27a3a" stroke-width="1.8"/>
<text x="262" y="262.2" font-size="38" fill="#1f1d1c" stroke="#1f1d1c" stroke-width="1.0" stroke-linejoin="round" textLength="60.5" lengthAdjust="spacingAndGlyphs">B12</text>
<ellipse cx="506" cy="251.5" rx="61" ry="31" fill="#000" opacity="0.15" filter="url(#blur2)"/>
<ellipse cx="503" cy="248.3" rx="61" ry="30.8" fill="url(#orgg)" stroke="#d27a3a" stroke-width="1.8"/>
<text x="471.5" y="259.8" font-size="41" fill="#1f1d1c" stroke="#1f1d1c" stroke-width="1.1" stroke-linejoin="round" textLength="65" lengthAdjust="spacingAndGlyphs">B12</text>
<ellipse cx="403" cy="149" rx="75" ry="32" fill="#1a3a40" opacity="0.3" filter="url(#blur2)"/>
<ellipse cx="401.5" cy="145" rx="76" ry="32.6" fill="url(#blueg)"/>
<text x="361.5" y="152" font-size="24" fill="#ffffff" stroke="#ffffff" stroke-width="0.6" textLength="99.5" lengthAdjust="spacing">Vitamin C</text>
<text x="16.8" y="295.6" font-size="15" fill="#f0f8f7" stroke="#f0f8f7" stroke-width="0.45" textLength="79.8" lengthAdjust="spacingAndGlyphs">Pindiphots</text>
<text x="368.5" y="333.6" font-size="20" fill="#f0f8f7" stroke="#f0f8f7" stroke-width="0.35" textLength="86.5" lengthAdjust="spacingAndGlyphs">Calenfo C</text>
<text x="455.5" y="363.6" font-size="15" fill="#f0f8f7" stroke="#f0f8f7" stroke-width="0.35" textLength="57" lengthAdjust="spacingAndGlyphs">Calcium</text>
<path d="M111.3,182 Q116,158 141,149" fill="none" stroke="#1c2429" stroke-width="2.2" stroke-linecap="round" marker-end="url(#ah)"/>
<path d="M170,240.7 L221,240.7" fill="none" stroke="#1c2429" stroke-width="2.2" stroke-linecap="round" marker-end="url(#ah)"/>
<path d="M194.4,316.7 L247,283" fill="none" stroke="#1c2429" stroke-width="2.2" stroke-linecap="round" marker-end="url(#ah)"/>
<path d="M439.4,229.4 Q402,215.5 364,226.3" fill="none" stroke="#1c2429" stroke-width="2.2" stroke-linecap="round" marker-end="url(#ah)"/>
<path d="M367.1,240.8 L432,240.3" fill="none" stroke="#1c2429" stroke-width="2.2" stroke-linecap="round" marker-end="url(#ah)"/>
<path d="M361.7,260.1 Q398,278 436,261" fill="none" stroke="#1c2429" stroke-width="2.2" stroke-linecap="round" marker-end="url(#ah)"/>
<path d="M477.4,166 Q503,178 504,206" fill="none" stroke="#1c2429" stroke-width="2.2" stroke-linecap="round" marker-end="url(#ah)"/>
<path d="M541,211.5 Q575,180 631,168" fill="none" stroke="#1c2429" stroke-width="2.2" stroke-linecap="round" marker-end="url(#ah)" marker-start="url(#ah)"/>
<path d="M592,319 L543.5,283.5" fill="none" stroke="#1c2429" stroke-width="2.2" stroke-linecap="round" marker-end="url(#ah)"/>
<line x1="478" y1="345" x2="478" y2="292" stroke="#cdeceb" stroke-width="2"/>
<path d="M478,284 L484.4,296 L478,293 L471.6,296Z" fill="#1c2429"/>
<g>
<ellipse cx="700" cy="232" rx="55" ry="10" fill="#2a4a50" opacity="0.25" filter="url(#blur2)"/>
<path d="M622,60 A64,29 0 0 1 750,60 L735,212 Q733,236.5 686,237 Q638,236.5 634,212Z" fill="url(#glassg)"/>
<path d="M630,108.5 L635.5,206 Q648,219 686,219 Q724,219 733.5,208 L741.5,108.5Z" fill="url(#milkg)"/>
<ellipse cx="686" cy="108.5" rx="55.7" ry="25.5" fill="url(#milktop)"/>
<path d="M635.5,206 Q648,219 686,219 Q724,219 733.5,208 L734.5,213 Q732.5,236.5 686,237 Q638.5,236.5 634.5,213Z" fill="url(#baseg)"/>
<path d="M640,226 Q660,232 686,232 Q712,232 732,226" fill="none" stroke="#eef4f4" stroke-width="1.5" opacity="0.8"/>
<rect x="710" y="128" width="8" height="106" fill="#ffffff" opacity="0.5" filter="url(#blur1)"/>
<rect x="646" y="40" width="12" height="50" fill="#cfe0e0" opacity="0.25" filter="url(#blur1)"/>
<path d="M622,60 L634,212 Q638,236.5 686,237 Q733,236.5 735,212 L750,60" fill="none" stroke="#d4e3e3" stroke-width="2" opacity="0.85"/>
<path d="M626.5,66 L637.5,212" fill="none" stroke="#c0d4d5" stroke-width="2" opacity="0.5"/>
<path d="M745.5,66 L731.5,212" fill="none" stroke="#c0d4d5" stroke-width="2" opacity="0.5"/>
<ellipse cx="686" cy="60" rx="64" ry="29" fill="none" stroke="#dde9e9" stroke-width="2.2" opacity="0.9"/>
<ellipse cx="686" cy="61" rx="60" ry="26" fill="none" stroke="#c6d8d9" stroke-width="1.5" opacity="0.7"/>
</g>
</svg></body></html>
